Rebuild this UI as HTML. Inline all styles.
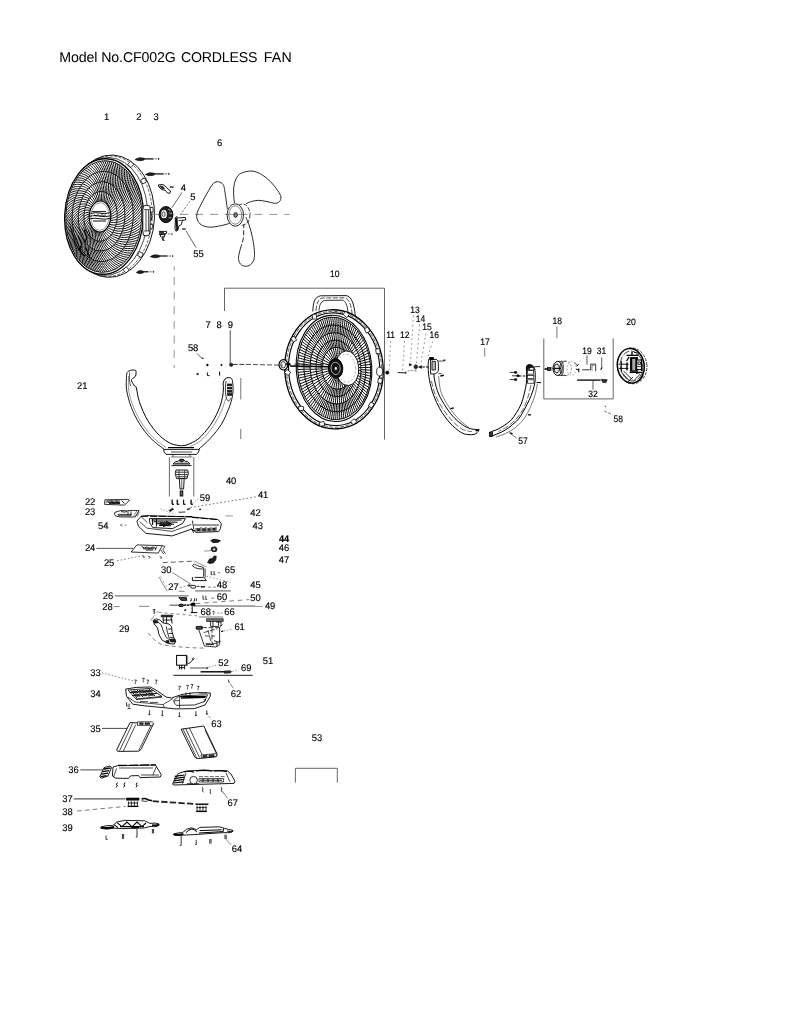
<!DOCTYPE html>
<html><head><meta charset="utf-8"><title>Model No.CF002G CORDLESS FAN</title>
<style>
html,body{margin:0;padding:0;background:#fff;}
body{width:793px;height:1024px;overflow:hidden;}
svg{display:block;font-family:"Liberation Sans",sans-serif;fill:#000;will-change:transform;text-rendering:geometricPrecision;}

</style></head><body>
<svg width="793" height="1024" viewBox="0 0 793 1024">
<text y="61.8" font-size="14.2"><tspan x="59.3" textLength="116.6" lengthAdjust="spacing">Model No.CF002G</tspan> <tspan x="181" textLength="76.4" lengthAdjust="spacing">CORDLESS</tspan> <tspan x="263.7" textLength="28" lengthAdjust="spacing">FAN</tspan></text>
<g id="labels" stroke="#000" stroke-width="0.15" fill="#000">
<text transform="translate(106.6 120) scale(0.98 1)" font-size="9.6" text-anchor="middle">1</text>
<text transform="translate(138.9 120) scale(0.98 1)" font-size="9.6" text-anchor="middle">2</text>
<text transform="translate(156 120) scale(0.98 1)" font-size="9.6" text-anchor="middle">3</text>
<text transform="translate(219.6 146) scale(0.98 1)" font-size="9.6" text-anchor="middle">6</text>
<text transform="translate(183.3 191.1) scale(0.98 1)" font-size="9.6" text-anchor="middle">4</text>
<text transform="translate(192.9 199.9) scale(0.98 1)" font-size="9.6" text-anchor="middle">5</text>
<text transform="translate(198.4 256.7) scale(0.98 1)" font-size="9.6" text-anchor="middle">55</text>
<text transform="translate(334.8 276.8) scale(0.92 1)" font-size="9.3" text-anchor="middle">10</text>
<text transform="translate(208.1 328) scale(0.98 1)" font-size="9.6" text-anchor="middle">7</text>
<text transform="translate(219 328) scale(0.98 1)" font-size="9.6" text-anchor="middle">8</text>
<text transform="translate(230.3 328) scale(0.98 1)" font-size="9.6" text-anchor="middle">9</text>
<text transform="translate(193.1 351) scale(0.98 1)" font-size="9.6" text-anchor="middle">58</text>
<text transform="translate(82.3 388.6) scale(0.98 1)" font-size="9.6" text-anchor="middle">21</text>
<text transform="translate(390.6 338) scale(0.92 1)" font-size="9.3" text-anchor="middle">11</text>
<text transform="translate(404.7 338) scale(0.92 1)" font-size="9.3" text-anchor="middle">12</text>
<text transform="translate(415 312.6) scale(0.92 1)" font-size="9.3" text-anchor="middle">13</text>
<text transform="translate(420.5 321.6) scale(0.92 1)" font-size="9.3" text-anchor="middle">14</text>
<text transform="translate(427.1 330.3) scale(0.92 1)" font-size="9.3" text-anchor="middle">15</text>
<text transform="translate(434.2 338.4) scale(0.92 1)" font-size="9.3" text-anchor="middle">16</text>
<text transform="translate(485 345.2) scale(0.92 1)" font-size="9.3" text-anchor="middle">17</text>
<text transform="translate(557.2 323.5) scale(0.92 1)" font-size="9.3" text-anchor="middle">18</text>
<text transform="translate(631.1 325.1) scale(0.92 1)" font-size="9.3" text-anchor="middle">20</text>
<text transform="translate(587.1 353.9) scale(0.92 1)" font-size="9.3" text-anchor="middle">19</text>
<text transform="translate(601.6 353.9) scale(0.92 1)" font-size="9.3" text-anchor="middle">31</text>
<text transform="translate(593.1 397.3) scale(0.92 1)" font-size="9.3" text-anchor="middle">32</text>
<text transform="translate(618.2 421.5) scale(0.92 1)" font-size="9.3" text-anchor="middle">58</text>
<text transform="translate(523 444.1) scale(0.92 1)" font-size="9.3" text-anchor="middle">57</text>
<text transform="translate(231.1 483.5) scale(0.98 1)" font-size="9.6" text-anchor="middle">40</text>
<text transform="translate(204.9 500.8) scale(0.98 1)" font-size="9.6" text-anchor="middle">59</text>
<text transform="translate(263.1 497.8) scale(0.98 1)" font-size="9.6" text-anchor="middle">41</text>
<text transform="translate(90.1 504.6) scale(0.98 1)" font-size="9.6" text-anchor="middle">22</text>
<text transform="translate(90.1 514.9) scale(0.98 1)" font-size="9.6" text-anchor="middle">23</text>
<text transform="translate(103.3 529.4) scale(0.98 1)" font-size="9.6" text-anchor="middle">54</text>
<text transform="translate(255.4 516.2) scale(0.98 1)" font-size="9.6" text-anchor="middle">42</text>
<text transform="translate(257.8 528.9) scale(0.98 1)" font-size="9.6" text-anchor="middle">43</text>
<text transform="translate(284 551.4) scale(0.98 1)" font-size="9.6" text-anchor="middle">46</text>
<text transform="translate(284 562.6) scale(0.98 1)" font-size="9.6" text-anchor="middle">47</text>
<text transform="translate(90.1 551.3) scale(0.98 1)" font-size="9.6" text-anchor="middle">24</text>
<text transform="translate(109.1 565.6) scale(0.98 1)" font-size="9.6" text-anchor="middle">25</text>
<text transform="translate(166.2 572.5) scale(0.98 1)" font-size="9.6" text-anchor="middle">30</text>
<text transform="translate(229.9 572.7) scale(0.98 1)" font-size="9.6" text-anchor="middle">65</text>
<text transform="translate(173.4 590.2) scale(0.98 1)" font-size="9.6" text-anchor="middle">27</text>
<text transform="translate(221.9 588.2) scale(0.98 1)" font-size="9.6" text-anchor="middle">48</text>
<text transform="translate(255.4 588.2) scale(0.98 1)" font-size="9.6" text-anchor="middle">45</text>
<text transform="translate(107.9 598.9) scale(0.98 1)" font-size="9.6" text-anchor="middle">26</text>
<text transform="translate(221.9 599.7) scale(0.98 1)" font-size="9.6" text-anchor="middle">60</text>
<text transform="translate(255.4 600.5) scale(0.98 1)" font-size="9.6" text-anchor="middle">50</text>
<text transform="translate(107.5 610.4) scale(0.98 1)" font-size="9.6" text-anchor="middle">28</text>
<text transform="translate(270.1 609) scale(0.98 1)" font-size="9.6" text-anchor="middle">49</text>
<text transform="translate(205.8 614.5) scale(0.98 1)" font-size="9.6" text-anchor="middle">68</text>
<text transform="translate(229.5 614.5) scale(0.98 1)" font-size="9.6" text-anchor="middle">66</text>
<text transform="translate(124.3 631.6) scale(0.98 1)" font-size="9.6" text-anchor="middle">29</text>
<text transform="translate(239.6 630) scale(0.98 1)" font-size="9.6" text-anchor="middle">61</text>
<text transform="translate(267.9 663.6) scale(0.98 1)" font-size="9.6" text-anchor="middle">51</text>
<text transform="translate(223.5 666.4) scale(0.98 1)" font-size="9.6" text-anchor="middle">52</text>
<text transform="translate(246.2 670.5) scale(0.98 1)" font-size="9.6" text-anchor="middle">69</text>
<text transform="translate(95.4 675.5) scale(0.98 1)" font-size="9.6" text-anchor="middle">33</text>
<text transform="translate(95.4 696.7) scale(0.98 1)" font-size="9.6" text-anchor="middle">34</text>
<text transform="translate(236 697.3) scale(0.98 1)" font-size="9.6" text-anchor="middle">62</text>
<text transform="translate(216.4 727) scale(0.98 1)" font-size="9.6" text-anchor="middle">63</text>
<text transform="translate(95.4 732.2) scale(0.98 1)" font-size="9.6" text-anchor="middle">35</text>
<text transform="translate(316.9 740.5) scale(0.98 1)" font-size="9.6" text-anchor="middle">53</text>
<text transform="translate(73.5 772.7) scale(0.98 1)" font-size="9.6" text-anchor="middle">36</text>
<text transform="translate(67.4 801.9) scale(0.98 1)" font-size="9.6" text-anchor="middle">37</text>
<text transform="translate(67.4 815.3) scale(0.98 1)" font-size="9.6" text-anchor="middle">38</text>
<text transform="translate(67.4 830.6) scale(0.98 1)" font-size="9.6" text-anchor="middle">39</text>
<text transform="translate(232.8 805.7) scale(0.98 1)" font-size="9.6" text-anchor="middle">67</text>
<text transform="translate(237 852.4) scale(0.98 1)" font-size="9.6" text-anchor="middle">64</text>
<text transform="translate(284 541.6) scale(0.96 1)" font-size="9.6" text-anchor="middle" font-weight="bold">44</text>
</g>
<g id="frames">
<path d="M224.5 311 L224.5 288.2 L384.5 288.2 L384.5 439.5" stroke="#555" stroke-width="0.9" fill="none"/>
<path d="M543.8 338.4 L543.8 398.9 L613.2 398.9 L613.2 338.4" stroke="#555" stroke-width="0.9" fill="none"/>
<path d="M295.4 782.6 L295.4 768.3 L337.3 768.3 L337.3 782.6" stroke="#555" stroke-width="0.9" fill="none"/>
<line x1="180.3" y1="214.4" x2="289.5" y2="214.4" stroke="#888" stroke-width="0.9" stroke-dasharray="8 6.84"/>
<path d="M174.2 266.6 V270.6 M174.2 277 V368" stroke="#888" stroke-width="0.9" fill="none" stroke-dasharray="8 6.65"/>
<line x1="240.8" y1="378" x2="240.8" y2="399.5" stroke="#666" stroke-width="0.9"/>
<line x1="240.8" y1="429" x2="240.8" y2="439.2" stroke="#666" stroke-width="0.9"/>
<line x1="230.2" y1="330.3" x2="230.2" y2="364.3" stroke="#222" stroke-width="0.8"/>
<line x1="484.7" y1="347.9" x2="484.7" y2="356.5" stroke="#555" stroke-width="0.8"/>
<line x1="556.9" y1="326.3" x2="556.9" y2="338.4" stroke="#555" stroke-width="0.8"/>
<line x1="587" y1="355.5" x2="587" y2="364.6" stroke="#333" stroke-width="0.8"/>
<line x1="601.7" y1="357.5" x2="601.7" y2="368" stroke="#333" stroke-width="0.8"/>
<line x1="593" y1="380.7" x2="593" y2="389.8" stroke="#333" stroke-width="0.8"/>
</g>
<g id="grill-front">
<ellipse cx="110.3" cy="216.2" rx="44.2" ry="61.2" stroke="#000" stroke-width="0.9" fill="#fff" transform="rotate(2.5 110.3 216.2)"/>
<ellipse cx="109" cy="216.2" rx="43.2" ry="60.2" stroke="#000" stroke-width="0.6" fill="none" stroke-dasharray="3 1.5" transform="rotate(2.5 109 216.2)"/>
<ellipse cx="106.5" cy="216.4" rx="41.2" ry="59" stroke="#000" stroke-width="0.7" fill="#fff" transform="rotate(2.5 106.5 216.4)"/>
<rect x="128.54" y="162.22" width="4.4" height="4.4" fill="#fff" stroke="#000" stroke-width="0.7" transform="rotate(-49.6 130.74 164.42)"/>
<rect x="141.36" y="178.78" width="4.4" height="4.4" fill="#fff" stroke="#000" stroke-width="0.7" transform="rotate(-30.4 143.56 180.98)"/>
<rect x="148.71" y="207.62" width="4.4" height="4.4" fill="#fff" stroke="#000" stroke-width="0.7" transform="rotate(-6.4 150.91 209.82)"/>
<rect x="147.98" y="224.25" width="4.4" height="4.4" fill="#fff" stroke="#000" stroke-width="0.7" transform="rotate(6.4 150.18 226.45)"/>
<rect x="138.15" y="252.34" width="4.4" height="4.4" fill="#fff" stroke="#000" stroke-width="0.7" transform="rotate(30.4 140.35 254.54)"/>
<rect x="123.93" y="267.72" width="4.4" height="4.4" fill="#fff" stroke="#000" stroke-width="0.7" transform="rotate(49.6 126.13 269.92)"/>
<ellipse cx="104" cy="216.5" rx="39.3" ry="57.8" stroke="#000" stroke-width="1.3" fill="#fff" transform="rotate(2.5 104 216.5)"/>
<path d="M109.79 216.74 C110.41 216.51 112.28 215.93 113.5 215.35 C114.72 214.77 116.52 213.6 117.12 213.25 M109.63 218.62 C110.27 218.48 112.16 218.19 113.42 217.79 C114.68 217.4 116.55 216.5 117.18 216.24 M109.33 220.46 C109.97 220.42 111.87 220.42 113.15 220.21 C114.42 220.01 116.35 219.4 117 219.24 M108.89 222.24 C109.52 222.3 111.4 222.59 112.68 222.58 C113.96 222.57 115.92 222.26 116.57 222.2 M108.31 223.94 C108.93 224.09 110.77 224.66 112.03 224.85 C113.3 225.04 115.27 225.03 115.91 225.07 M107.6 225.52 C108.2 225.77 109.97 226.62 111.21 227 C112.45 227.38 114.39 227.68 115.03 227.81 M106.78 226.97 C107.35 227.31 109.03 228.42 110.23 228.99 C111.42 229.56 113.32 230.16 113.94 230.39 M105.85 228.26 C106.39 228.68 107.96 230.05 109.09 230.8 C110.23 231.55 112.06 232.43 112.65 232.76 M104.83 229.38 C105.33 229.88 106.77 231.48 107.83 232.4 C108.89 233.32 110.62 234.48 111.18 234.89 M103.73 230.31 C104.19 230.88 105.48 232.69 106.45 233.76 C107.42 234.84 109.05 236.26 109.57 236.75 M102.58 231.03 C102.98 231.67 104.11 233.66 104.98 234.87 C105.85 236.09 107.34 237.74 107.81 238.32 M101.38 231.54 C101.72 232.23 102.68 234.37 103.44 235.71 C104.2 237.05 105.54 238.92 105.96 239.56 M100.15 231.83 C100.44 232.57 101.2 234.82 101.85 236.27 C102.49 237.71 103.66 239.77 104.02 240.47 M98.92 231.89 C99.14 232.66 99.71 235.01 100.23 236.53 C100.75 238.05 101.74 240.27 102.04 241.02 M97.7 231.72 C97.85 232.51 98.23 234.92 98.62 236.5 C99 238.08 99.8 240.43 100.03 241.21 M96.5 231.33 C96.59 232.13 96.76 234.56 97.02 236.18 C97.27 237.8 97.87 240.23 98.03 241.05 M95.35 230.71 C95.37 231.52 95.35 233.93 95.47 235.56 C95.59 237.2 95.97 239.69 96.07 240.52 M94.26 229.89 C94.22 230.69 94 233.04 93.98 234.67 C93.97 236.29 94.14 238.81 94.18 239.63 M93.25 228.87 C93.14 229.65 92.73 231.92 92.59 233.51 C92.44 235.1 92.41 237.59 92.37 238.41 M92.33 227.67 C92.16 228.41 91.57 230.56 91.3 232.09 C91.03 233.63 90.79 236.07 90.69 236.87 M91.52 226.3 C91.29 226.99 90.54 229 90.14 230.45 C89.75 231.9 89.32 234.26 89.15 235.03 M90.83 224.79 C90.54 225.42 89.64 227.25 89.13 228.6 C88.62 229.96 88 232.19 87.78 232.91 M90.26 223.15 C89.93 223.72 88.89 225.34 88.27 226.57 C87.66 227.81 86.87 229.89 86.59 230.56 M89.83 221.41 C89.46 221.91 88.3 223.3 87.59 224.4 C86.89 225.49 85.94 227.39 85.61 227.99 M89.54 219.6 C89.13 220.02 87.88 221.16 87.09 222.1 C86.31 223.05 85.22 224.73 84.84 225.26 M89.4 217.74 C88.97 218.07 87.63 218.95 86.78 219.72 C85.93 220.5 84.72 221.95 84.31 222.39 M89.41 215.86 C88.95 216.1 87.57 216.7 86.67 217.29 C85.77 217.89 84.45 219.08 84.01 219.44 M89.57 213.98 C89.1 214.13 87.68 214.44 86.75 214.85 C85.81 215.26 84.42 216.18 83.95 216.44 M89.87 212.14 C89.39 212.19 87.98 212.21 87.02 212.43 C86.07 212.65 84.62 213.28 84.14 213.45 M90.31 210.36 C89.84 210.31 88.44 210.04 87.49 210.07 C86.53 210.09 85.05 210.42 84.57 210.49 M90.89 208.66 C90.43 208.52 89.08 207.97 88.13 207.79 C87.19 207.62 85.71 207.65 85.22 207.62 M91.6 207.08 C91.16 206.84 89.87 206.01 88.96 205.64 C88.04 205.28 86.58 205 86.11 204.88 M92.42 205.63 C92.01 205.3 90.81 204.21 89.94 203.65 C89.07 203.09 87.66 202.52 87.2 202.3 M93.35 204.34 C92.97 203.92 91.89 202.58 91.08 201.84 C90.26 201.11 88.92 200.25 88.49 199.93 M94.37 203.22 C94.03 202.72 93.08 201.15 92.34 200.24 C91.6 199.34 90.35 198.2 89.95 197.79 M95.47 202.29 C95.18 201.72 94.37 199.94 93.72 198.88 C93.07 197.82 91.93 196.42 91.57 195.93 M96.62 201.57 C96.38 200.94 95.74 198.97 95.19 197.77 C94.64 196.57 93.63 194.94 93.32 194.37 M97.82 201.06 C97.64 200.37 97.17 198.26 96.73 196.93 C96.29 195.61 95.44 193.76 95.18 193.13 M99.05 200.77 C98.93 200.04 98.64 197.8 98.32 196.38 C98 194.95 97.31 192.91 97.11 192.22 M100.28 200.71 C100.22 199.95 100.13 197.62 99.93 196.11 C99.74 194.61 99.24 192.41 99.1 191.67 M101.5 200.88 C101.51 200.09 101.62 197.71 101.55 196.14 C101.49 194.58 101.18 192.25 101.1 191.47 M102.7 201.27 C102.77 200.47 103.08 198.07 103.15 196.47 C103.22 194.86 103.11 192.45 103.1 191.64 M103.85 201.89 C103.99 201.08 104.5 198.7 104.7 197.08 C104.9 195.46 105 192.99 105.06 192.17 M104.94 202.71 C105.15 201.92 105.85 199.59 106.19 197.98 C106.52 196.37 106.83 193.87 106.96 193.05 M105.95 203.73 C106.22 202.96 107.11 200.71 107.58 199.14 C108.05 197.56 108.57 195.09 108.76 194.28 M106.87 204.93 C107.2 204.2 108.27 202.07 108.87 200.55 C109.47 199.03 110.18 196.61 110.45 195.82 M107.68 206.3 C108.07 205.61 109.31 203.63 110.03 202.19 C110.74 200.75 111.66 198.42 111.98 197.66 M108.37 207.81 C108.82 207.18 110.21 205.38 111.04 204.04 C111.87 202.7 112.97 200.49 113.36 199.78 M108.94 209.45 C109.43 208.89 110.96 207.29 111.89 206.07 C112.83 204.85 114.1 202.79 114.54 202.13 M109.37 211.19 C109.9 210.7 111.55 209.33 112.58 208.25 C113.6 207.16 115.03 205.29 115.53 204.7 M109.66 213 C110.23 212.59 111.97 211.47 113.07 210.54 C114.18 209.61 115.76 207.95 116.29 207.43 M109.8 214.86 C110.4 214.54 112.21 213.68 113.38 212.92 C114.56 212.16 116.25 210.73 116.83 210.29 M117.16 213.89 C117.77 213.42 119.65 212.14 120.84 211.07 C122.03 210.01 123.74 208.11 124.32 207.52 M117.18 216.06 C117.82 215.66 119.76 214.58 121.01 213.64 C122.26 212.71 124.07 211 124.68 210.47 M117.09 218.23 C117.74 217.9 119.74 217.03 121.04 216.23 C122.33 215.44 124.23 213.92 124.87 213.46 M116.86 220.38 C117.53 220.12 119.57 219.48 120.91 218.82 C122.24 218.17 124.22 216.86 124.89 216.47 M116.51 222.51 C117.2 222.32 119.26 221.9 120.62 221.4 C121.99 220.89 124.04 219.8 124.72 219.48 M116.04 224.58 C116.73 224.47 118.81 224.28 120.19 223.93 C121.58 223.58 123.68 222.72 124.38 222.47 M115.45 226.6 C116.15 226.56 118.22 226.6 119.62 226.41 C121.02 226.21 123.16 225.58 123.86 225.42 M114.75 228.53 C115.44 228.58 117.5 228.85 118.9 228.81 C120.31 228.77 122.47 228.38 123.18 228.29 M113.94 230.38 C114.63 230.5 116.65 230.99 118.05 231.11 C119.45 231.23 121.62 231.08 122.33 231.08 M113.03 232.11 C113.7 232.31 115.69 233.03 117.07 233.3 C118.45 233.58 120.61 233.67 121.32 233.75 M112.03 233.73 C112.68 234 114.61 234.94 115.97 235.37 C117.32 235.8 119.47 236.13 120.17 236.29 M110.93 235.21 C111.57 235.56 113.43 236.71 114.75 237.29 C116.07 237.87 118.18 238.44 118.87 238.68 M109.76 236.55 C110.37 236.97 112.15 238.33 113.43 239.05 C114.71 239.77 116.77 240.59 117.44 240.89 M108.52 237.74 C109.1 238.22 110.79 239.77 112.01 240.64 C113.24 241.5 115.24 242.54 115.89 242.93 M107.22 238.76 C107.77 239.31 109.35 241.04 110.52 242.04 C111.68 243.04 113.61 244.3 114.23 244.76 M105.86 239.62 C106.38 240.22 107.84 242.12 108.95 243.25 C110.05 244.37 111.88 245.85 112.47 246.37 M104.47 240.29 C104.94 240.95 106.29 243.01 107.32 244.25 C108.34 245.49 110.08 247.17 110.63 247.76 M103.05 240.79 C103.48 241.5 104.69 243.69 105.64 245.04 C106.58 246.39 108.21 248.26 108.72 248.91 M101.61 241.09 C101.99 241.85 103.07 244.16 103.93 245.61 C104.79 247.07 106.29 249.11 106.76 249.81 M100.16 241.21 C100.5 242 101.43 244.42 102.19 245.96 C102.96 247.5 104.33 249.7 104.76 250.45 M98.71 241.14 C99 241.97 99.78 244.47 100.45 246.09 C101.12 247.7 102.35 250.05 102.74 250.84 M97.28 240.88 C97.52 241.74 98.14 244.31 98.71 245.99 C99.28 247.67 100.37 250.13 100.7 250.96 M95.87 240.44 C96.06 241.31 96.53 243.93 96.99 245.66 C97.46 247.39 98.39 249.96 98.67 250.82 M94.5 239.81 C94.63 240.69 94.94 243.34 95.31 245.11 C95.67 246.88 96.44 249.54 96.67 250.42 M93.17 239 C93.25 239.89 93.41 242.55 93.66 244.34 C93.92 246.13 94.53 248.86 94.7 249.76 M91.9 238.02 C91.93 238.91 91.93 241.56 92.07 243.36 C92.22 245.16 92.66 247.93 92.78 248.85 M90.7 236.88 C90.68 237.76 90.51 240.37 90.55 242.17 C90.59 243.97 90.87 246.77 90.93 247.69 M89.57 235.58 C89.5 236.45 89.18 239 89.11 240.79 C89.05 242.58 89.16 245.37 89.17 246.29 M88.53 234.13 C88.4 234.98 87.94 237.47 87.77 239.22 C87.59 240.98 87.54 243.76 87.49 244.66 M87.57 232.55 C87.4 233.37 86.79 235.77 86.52 237.48 C86.24 239.19 86.02 241.93 85.93 242.82 M86.72 230.84 C86.5 231.63 85.76 233.92 85.38 235.57 C85.01 237.23 84.63 239.91 84.48 240.78 M85.97 229.02 C85.7 229.77 84.83 231.94 84.36 233.52 C83.9 235.11 83.36 237.71 83.16 238.55 M85.33 227.11 C85.02 227.82 84.03 229.84 83.47 231.34 C82.92 232.85 82.23 235.35 81.99 236.15 M84.81 225.12 C84.46 225.77 83.36 227.63 82.72 229.05 C82.08 230.46 81.25 232.85 80.96 233.6 M84.41 223.06 C84.03 223.66 82.82 225.35 82.1 226.66 C81.38 227.97 80.42 230.21 80.09 230.93 M84.13 220.94 C83.72 221.48 82.42 222.99 81.63 224.19 C80.84 225.39 79.75 227.48 79.38 228.14 M83.98 218.79 C83.53 219.27 82.16 220.58 81.31 221.66 C80.45 222.74 79.25 224.66 78.84 225.26 M83.95 216.63 C83.48 217.04 82.05 218.14 81.13 219.09 C80.22 220.04 78.92 221.78 78.48 222.31 M84.05 214.46 C83.56 214.8 82.07 215.69 81.11 216.5 C80.15 217.31 78.76 218.85 78.29 219.32 M84.28 212.31 C83.77 212.57 82.24 213.24 81.24 213.91 C80.24 214.58 78.77 215.91 78.27 216.31 M84.62 210.18 C84.11 210.37 82.55 210.82 81.52 211.34 C80.49 211.86 78.95 212.97 78.44 213.3 M85.09 208.11 C84.57 208.22 83.01 208.44 81.95 208.8 C80.9 209.17 79.31 210.06 78.78 210.31 M85.68 206.09 C85.16 206.13 83.59 206.12 82.53 206.33 C81.46 206.54 79.84 207.19 79.3 207.36 M86.38 204.16 C85.86 204.12 84.31 203.87 83.25 203.93 C82.18 203.98 80.53 204.4 79.98 204.49 M87.19 202.31 C86.68 202.2 85.16 201.72 84.1 201.62 C83.04 201.52 81.37 201.69 80.83 201.7 M88.1 200.58 C87.6 200.39 86.12 199.69 85.08 199.43 C84.04 199.17 82.38 199.1 81.84 199.03 M89.11 198.96 C88.62 198.69 87.2 197.78 86.18 197.37 C85.16 196.95 83.53 196.64 82.99 196.49 M90.2 197.48 C89.74 197.14 88.38 196.01 87.4 195.45 C86.41 194.88 84.81 194.33 84.29 194.1 M91.37 196.14 C90.93 195.73 89.66 194.39 88.72 193.69 C87.78 192.98 86.22 192.19 85.72 191.89 M92.62 194.95 C92.2 194.47 91.03 192.95 90.13 192.1 C89.24 191.25 87.75 190.23 87.27 189.85 M93.92 193.92 C93.54 193.39 92.46 191.68 91.63 190.69 C90.8 189.71 89.38 188.47 88.93 188.02 M95.27 193.07 C94.93 192.47 93.97 190.6 93.2 189.49 C92.44 188.38 91.11 186.92 90.69 186.41 M96.67 192.4 C96.36 191.74 95.52 189.71 94.83 188.48 C94.14 187.26 92.91 185.6 92.53 185.02 M98.09 191.9 C97.83 191.2 97.12 189.03 96.51 187.69 C95.9 186.36 94.78 184.51 94.44 183.87 M99.53 191.59 C99.31 190.85 98.74 188.56 98.22 187.12 C97.7 185.68 96.7 183.67 96.4 182.97 M100.98 191.47 C100.81 190.69 100.39 188.29 99.95 186.77 C99.52 185.25 98.66 183.07 98.4 182.33 M102.43 191.54 C102.31 190.73 102.03 188.25 101.7 186.65 C101.36 185.05 100.64 182.73 100.42 181.94 M103.86 191.8 C103.79 190.96 103.67 188.41 103.43 186.75 C103.2 185.08 102.62 182.64 102.46 181.82 M105.27 192.25 C105.25 191.39 105.28 188.79 105.15 187.07 C105.02 185.36 104.6 182.81 104.49 181.96 M106.64 192.88 C106.67 192 106.87 189.38 106.84 187.62 C106.82 185.87 106.55 183.24 106.49 182.36 M107.96 193.68 C108.05 192.8 108.4 190.17 108.49 188.39 C108.57 186.61 108.47 183.91 108.46 183.02 M109.23 194.66 C109.37 193.78 109.88 191.16 110.08 189.37 C110.27 187.59 110.33 184.84 110.38 183.93 M110.44 195.81 C110.63 194.93 111.3 192.35 111.59 190.56 C111.89 188.77 112.12 186 112.23 185.09 M111.56 197.11 C111.81 196.25 112.63 193.71 113.03 191.94 C113.44 190.17 113.83 187.4 113.99 186.49 M112.61 198.56 C112.9 197.72 113.87 195.25 114.38 193.51 C114.89 191.77 115.45 189.02 115.67 188.12 M113.56 200.14 C113.91 199.33 115.02 196.95 115.63 195.26 C116.24 193.56 116.97 190.84 117.23 189.96 M114.42 201.85 C114.81 201.07 116.06 198.8 116.77 197.16 C117.48 195.52 118.36 192.86 118.68 192 M115.16 203.66 C115.6 202.92 116.98 200.78 117.78 199.21 C118.59 197.64 119.63 195.06 120 194.23 M115.8 205.58 C116.28 204.88 117.78 202.88 118.67 201.39 C119.57 199.9 120.76 197.42 121.17 196.63 M116.32 207.57 C116.84 206.92 118.45 205.08 119.43 203.68 C120.41 202.29 121.74 199.93 122.2 199.18 M116.73 209.63 C117.28 209.04 118.99 207.37 120.05 206.08 C121.1 204.78 122.57 202.56 123.07 201.85 M117 211.75 C117.59 211.21 119.39 209.73 120.52 208.55 C121.65 207.36 123.24 205.29 123.78 204.64 M124.39 208.02 C124.98 207.25 126.8 205.09 127.91 203.43 C129.02 201.77 130.53 198.96 131.05 198.07 M124.67 210.33 C125.29 209.61 127.21 207.6 128.39 206.03 C129.57 204.46 131.2 201.77 131.77 200.92 M124.84 212.66 C125.49 212 127.5 210.15 128.75 208.68 C130 207.21 131.75 204.65 132.35 203.85 M124.9 215.02 C125.58 214.41 127.66 212.73 128.98 211.36 C130.29 210 132.16 207.59 132.79 206.83 M124.85 217.38 C125.56 216.83 127.71 215.32 129.09 214.07 C130.46 212.82 132.43 210.57 133.09 209.86 M124.7 219.73 C125.43 219.24 127.64 217.93 129.07 216.79 C130.49 215.66 132.56 213.57 133.26 212.93 M124.43 222.07 C125.18 221.65 127.45 220.52 128.92 219.51 C130.4 218.5 132.55 216.59 133.27 216 M124.06 224.39 C124.83 224.03 127.14 223.1 128.65 222.21 C130.17 221.33 132.4 219.6 133.15 219.08 M123.59 226.66 C124.37 226.37 126.71 225.64 128.26 224.89 C129.81 224.14 132.11 222.61 132.88 222.15 M123.01 228.89 C123.8 228.67 126.17 228.14 127.74 227.53 C129.32 226.91 131.69 225.58 132.48 225.19 M122.33 231.06 C123.13 230.9 125.51 230.59 127.11 230.11 C128.71 229.63 131.13 228.51 131.93 228.19 M121.56 233.17 C122.36 233.08 124.74 232.97 126.36 232.63 C127.97 232.3 130.44 231.39 131.25 231.14 M120.69 235.19 C121.49 235.17 123.87 235.28 125.49 235.08 C127.12 234.88 129.61 234.19 130.44 234.01 M119.74 237.13 C120.53 237.18 122.9 237.49 124.52 237.44 C126.15 237.39 128.66 236.91 129.49 236.81 M118.69 238.96 C119.49 239.09 121.82 239.61 123.44 239.7 C125.07 239.79 127.59 239.54 128.42 239.51 M117.57 240.7 C118.36 240.89 120.66 241.62 122.27 241.85 C123.88 242.08 126.4 242.06 127.23 242.1 M116.38 242.32 C117.15 242.58 119.41 243.51 121 243.88 C122.59 244.26 125.11 244.46 125.93 244.57 M115.11 243.82 C115.87 244.15 118.07 245.27 119.64 245.79 C121.21 246.31 123.7 246.73 124.51 246.91 M113.79 245.19 C114.52 245.59 116.66 246.91 118.2 247.56 C119.73 248.21 122.2 248.85 123 249.11 M112.4 246.43 C113.11 246.89 115.19 248.39 116.68 249.18 C118.18 249.97 120.61 250.83 121.39 251.16 M110.97 247.53 C111.65 248.05 113.65 249.73 115.1 250.65 C116.56 251.57 118.93 252.65 119.7 253.05 M109.49 248.48 C110.15 249.06 112.05 250.92 113.46 251.96 C114.86 253.01 117.18 254.29 117.92 254.76 M107.97 249.28 C108.6 249.92 110.41 251.94 111.76 253.11 C113.11 254.28 115.35 255.76 116.07 256.3 M106.43 249.93 C107.02 250.62 108.73 252.8 110.02 254.08 C111.31 255.37 113.47 257.05 114.16 257.65 M104.86 250.43 C105.42 251.17 107.02 253.49 108.24 254.88 C109.47 256.28 111.54 258.15 112.2 258.8 M103.27 250.76 C103.8 251.55 105.28 254 106.44 255.5 C107.59 257 109.57 259.05 110.19 259.76 M101.68 250.93 C102.17 251.77 103.53 254.34 104.61 255.94 C105.69 257.54 107.56 259.76 108.15 260.52 M100.09 250.95 C100.54 251.82 101.77 254.5 102.77 256.19 C103.77 257.88 105.53 260.26 106.08 261.07 M98.51 250.8 C98.91 251.71 100.02 254.49 100.93 256.26 C101.85 258.03 103.49 260.56 104 261.42 M96.94 250.49 C97.3 251.43 98.27 254.3 99.1 256.14 C99.92 257.98 101.44 260.65 101.91 261.55 M95.39 250.02 C95.7 250.99 96.53 253.93 97.27 255.84 C98.01 257.74 99.4 260.54 99.82 261.48 M93.87 249.4 C94.13 250.39 94.83 253.38 95.48 255.35 C96.12 257.31 97.37 260.22 97.75 261.19 M92.38 248.62 C92.6 249.63 93.15 252.67 93.71 254.68 C94.26 256.69 95.37 259.7 95.7 260.7 M90.94 247.69 C91.11 248.72 91.52 251.78 91.98 253.83 C92.44 255.88 93.4 258.97 93.69 260 M89.55 246.62 C89.67 247.65 89.94 250.73 90.3 252.81 C90.66 254.89 91.47 258.05 91.71 259.1 M88.21 245.4 C88.29 246.44 88.41 249.52 88.67 251.62 C88.93 253.72 89.6 256.93 89.79 257.99 M86.94 244.05 C86.97 245.09 86.95 248.15 87.11 250.26 C87.27 252.37 87.79 255.63 87.92 256.7 M85.74 242.57 C85.72 243.6 85.55 246.64 85.62 248.75 C85.68 250.85 86.04 254.14 86.13 255.21 M84.61 240.97 C84.54 241.99 84.23 244.99 84.2 247.08 C84.17 249.18 84.37 252.47 84.41 253.55 M83.55 239.26 C83.44 240.26 83 243.2 82.87 245.28 C82.74 247.35 82.79 250.64 82.78 251.71 M82.59 237.43 C82.43 238.42 81.85 241.29 81.63 243.33 C81.4 245.38 81.3 248.65 81.24 249.71 M81.71 235.51 C81.5 236.47 80.8 239.26 80.48 241.27 C80.16 243.27 79.91 246.51 79.8 247.55 M80.92 233.5 C80.67 234.43 79.84 237.13 79.43 239.08 C79.02 241.04 78.62 244.22 78.46 245.25 M80.23 231.41 C79.94 232.31 78.99 234.89 78.49 236.8 C77.99 238.7 77.45 241.81 77.24 242.81 M79.64 229.25 C79.31 230.11 78.25 232.58 77.66 234.41 C77.08 236.24 76.39 239.28 76.14 240.25 M79.15 227.03 C78.78 227.85 77.61 230.18 76.95 231.94 C76.28 233.7 75.46 236.64 75.16 237.58 M78.77 224.76 C78.36 225.54 77.09 227.73 76.35 229.4 C75.6 231.08 74.65 233.91 74.31 234.81 M78.49 222.45 C78.05 223.18 76.68 225.22 75.87 226.8 C75.05 228.39 73.97 231.1 73.59 231.96 M78.32 220.12 C77.85 220.79 76.4 222.67 75.51 224.15 C74.63 225.64 73.43 228.22 73.01 229.03 M78.26 217.76 C77.76 218.38 76.23 220.09 75.28 221.47 C74.33 222.85 73.02 225.28 72.57 226.05 M78.31 215.4 C77.78 215.96 76.18 217.49 75.17 218.76 C74.17 220.03 72.75 222.31 72.27 223.02 M78.46 213.05 C77.92 213.55 76.25 214.89 75.19 216.04 C74.13 217.19 72.62 219.3 72.1 219.95 M78.73 210.71 C78.16 211.14 76.45 212.29 75.34 213.32 C74.23 214.35 72.63 216.28 72.09 216.88 M79.1 208.39 C78.51 208.76 76.76 209.72 75.61 210.62 C74.46 211.52 72.78 213.27 72.21 213.8 M79.57 206.12 C78.98 206.42 77.18 207.17 76 207.94 C74.82 208.71 73.06 210.27 72.48 210.73 M80.15 203.89 C79.54 204.12 77.73 204.67 76.52 205.3 C75.3 205.94 73.49 207.29 72.88 207.69 M80.83 201.72 C80.21 201.88 78.38 202.22 77.15 202.72 C75.92 203.21 74.05 204.36 73.43 204.69 M81.6 199.61 C80.98 199.71 79.15 199.84 77.9 200.2 C76.65 200.55 74.74 201.49 74.11 201.74 M82.47 197.59 C81.85 197.62 80.02 197.54 78.77 197.75 C77.51 197.96 75.56 198.68 74.92 198.87 M83.42 195.65 C82.81 195.61 81 195.32 79.74 195.39 C78.48 195.46 76.51 195.96 75.87 196.07 M84.47 193.82 C83.86 193.7 82.07 193.2 80.82 193.13 C79.56 193.06 77.59 193.33 76.94 193.37 M85.59 192.08 C84.99 191.9 83.24 191.2 81.99 190.98 C80.75 190.76 78.77 190.81 78.13 190.78 M86.78 190.46 C86.2 190.21 84.49 189.3 83.26 188.95 C82.04 188.59 80.07 188.41 79.43 188.31 M88.05 188.96 C87.48 188.64 85.82 187.54 84.62 187.04 C83.42 186.54 81.47 186.15 80.85 185.97 M89.37 187.59 C88.82 187.2 87.23 185.91 86.06 185.27 C84.89 184.63 82.98 184.02 82.36 183.77 M90.76 186.35 C90.23 185.9 88.71 184.42 87.58 183.65 C86.44 182.88 84.57 182.04 83.97 181.72 M92.19 185.25 C91.69 184.74 90.25 183.08 89.16 182.18 C88.07 181.27 86.25 180.23 85.66 179.83 M93.67 184.3 C93.19 183.73 91.84 181.9 90.8 180.87 C89.76 179.84 88 178.58 87.44 178.12 M95.19 183.5 C94.74 182.87 93.48 180.87 92.5 179.72 C91.51 178.57 89.82 177.11 89.29 176.58 M96.73 182.85 C96.32 182.16 95.16 180.02 94.24 178.75 C93.32 177.48 91.7 175.82 91.2 175.23 M98.3 182.35 C97.92 181.62 96.87 179.33 96.02 177.95 C95.16 176.57 93.64 174.72 93.16 174.08 M99.89 182.02 C99.54 181.24 98.61 178.81 97.82 177.33 C97.04 175.85 95.61 173.82 95.17 173.12 M101.48 181.85 C101.17 181.02 100.36 178.47 99.65 176.89 C98.94 175.31 97.62 173.11 97.21 172.36 M103.07 181.83 C102.81 180.97 102.12 178.31 101.49 176.64 C100.86 174.97 99.64 172.61 99.28 171.81 M104.65 181.98 C104.43 181.08 103.88 178.33 103.33 176.57 C102.78 174.82 101.69 172.31 101.36 171.46 M106.22 182.29 C106.05 181.36 105.63 178.52 105.16 176.69 C104.7 174.86 103.73 172.22 103.45 171.33 M107.77 182.76 C107.64 181.8 107.36 178.89 106.99 176.99 C106.61 175.1 105.78 172.33 105.54 171.4 M109.29 183.38 C109.21 182.4 109.07 179.43 108.78 177.48 C108.5 175.53 107.8 172.65 107.61 171.69 M110.78 184.16 C110.74 183.16 110.74 180.15 110.55 178.15 C110.37 176.16 109.81 173.18 109.66 172.18 M112.22 185.09 C112.23 184.07 112.37 181.03 112.28 179 C112.19 176.96 111.78 173.9 111.67 172.88 M113.61 186.16 C113.67 185.14 113.95 182.08 113.96 180.02 C113.97 177.96 113.7 174.82 113.65 173.78 M114.95 187.38 C115.05 186.35 115.48 183.29 115.59 181.21 C115.69 179.13 115.58 175.94 115.57 174.89 M116.22 188.73 C116.37 187.7 116.95 184.66 117.15 182.57 C117.35 180.48 117.39 177.25 117.44 176.18 M117.42 190.21 C117.63 189.19 118.34 186.17 118.64 184.08 C118.95 181.99 119.14 178.74 119.23 177.67 M118.55 191.81 C118.81 190.8 119.66 187.83 120.06 185.75 C120.46 183.67 120.8 180.4 120.95 179.33 M119.61 193.52 C119.9 192.53 120.9 189.61 121.39 187.55 C121.89 185.49 122.39 182.23 122.58 181.17 M120.57 195.35 C120.92 194.37 122.04 191.52 122.63 189.5 C123.23 187.47 123.88 184.22 124.12 183.17 M121.45 197.27 C121.84 196.32 123.1 193.55 123.78 191.56 C124.47 189.57 125.27 186.37 125.56 185.33 M122.24 199.28 C122.67 198.36 124.05 195.69 124.83 193.75 C125.6 191.8 126.55 188.65 126.9 187.63 M122.93 201.37 C123.4 200.48 124.9 197.92 125.77 196.03 C126.63 194.15 127.73 191.06 128.12 190.07 M123.52 203.53 C124.03 202.68 125.65 200.24 126.6 198.42 C127.55 196.6 128.78 193.59 129.22 192.63 M124.01 205.75 C124.56 204.94 126.28 202.63 127.31 200.89 C128.35 199.14 129.72 196.23 130.2 195.3 M130.62 196.62 C131.05 195.57 132.44 192.53 133.2 190.33 C133.97 188.13 134.88 184.58 135.22 183.43 M131.28 198.92 C131.75 197.9 133.25 194.95 134.09 192.79 C134.94 190.64 135.99 187.14 136.37 186.01 M131.85 201.28 C132.35 200.29 133.96 197.43 134.89 195.33 C135.82 193.23 137 189.79 137.42 188.68 M132.32 203.69 C132.86 202.73 134.57 199.98 135.58 197.94 C136.59 195.9 137.9 192.52 138.37 191.44 M132.7 206.14 C133.28 205.21 135.09 202.58 136.18 200.6 C137.26 198.62 138.7 195.33 139.2 194.28 M132.99 208.61 C133.6 207.73 135.51 205.22 136.66 203.31 C137.82 201.41 139.38 198.21 139.92 197.19 M133.18 211.12 C133.82 210.28 135.82 207.89 137.05 206.07 C138.27 204.24 139.95 201.14 140.54 200.16 M133.27 213.64 C133.95 212.84 136.03 210.6 137.33 208.85 C138.62 207.11 140.41 204.13 141.03 203.18 M133.27 216.17 C133.98 215.42 136.14 213.32 137.5 211.66 C138.85 210.01 140.76 207.15 141.41 206.24 M133.17 218.7 C133.9 218 136.14 216.05 137.56 214.49 C138.97 212.93 140.98 210.2 141.67 209.34 M132.98 221.22 C133.74 220.57 136.04 218.78 137.51 217.32 C138.98 215.86 141.09 213.27 141.81 212.46 M132.69 223.73 C133.47 223.13 135.84 221.51 137.36 220.15 C138.88 218.8 141.08 216.35 141.83 215.59 M132.31 226.21 C133.11 225.67 135.53 224.22 137.1 222.97 C138.67 221.72 140.96 219.43 141.73 218.72 M131.83 228.67 C132.65 228.18 135.12 226.9 136.73 225.77 C138.35 224.63 140.71 222.5 141.51 221.85 M131.26 231.08 C132.1 230.66 134.61 229.56 136.26 228.54 C137.91 227.52 140.36 225.56 141.17 224.96 M130.61 233.45 C131.45 233.09 134 232.17 135.68 231.27 C137.37 230.36 139.88 228.58 140.72 228.04 M129.86 235.77 C130.72 235.47 133.29 234.73 135.01 233.95 C136.72 233.17 139.29 231.57 140.15 231.09 M129.03 238.03 C129.89 237.78 132.49 237.23 134.23 236.58 C135.97 235.92 138.59 234.51 139.46 234.09 M128.11 240.21 C128.99 240.03 131.59 239.67 133.35 239.14 C135.11 238.61 137.78 237.39 138.67 237.04 M127.12 242.33 C128 242.21 130.61 242.04 132.38 241.64 C134.15 241.24 136.86 240.2 137.76 239.92 M126.05 244.36 C126.93 244.31 129.54 244.32 131.32 244.05 C133.1 243.78 135.84 242.95 136.75 242.73 M124.9 246.3 C125.78 246.31 128.38 246.52 130.17 246.38 C131.96 246.24 134.72 245.61 135.63 245.45 M123.69 248.15 C124.56 248.23 127.15 248.62 128.93 248.61 C130.72 248.6 133.5 248.17 134.41 248.08 M122.41 249.9 C123.28 250.04 125.83 250.63 127.62 250.75 C129.4 250.87 132.18 250.64 133.1 250.62 M121.06 251.54 C121.92 251.75 124.45 252.52 126.22 252.77 C127.99 253.02 130.78 253 131.69 253.04 M119.66 253.08 C120.51 253.34 123 254.3 124.76 254.68 C126.51 255.06 129.29 255.24 130.2 255.36 M118.21 254.5 C119.05 254.83 121.49 255.96 123.23 256.47 C124.96 256.98 127.72 257.37 128.62 257.55 M116.71 255.79 C117.53 256.19 119.92 257.5 121.63 258.14 C123.34 258.77 126.08 259.36 126.96 259.61 M115.16 256.97 C115.96 257.42 118.3 258.91 119.98 259.67 C121.66 260.43 124.36 261.22 125.24 261.53 M113.57 258.02 C114.36 258.53 116.62 260.19 118.27 261.07 C119.91 261.95 122.58 262.94 123.44 263.31 M111.95 258.93 C112.71 259.5 114.91 261.32 116.52 262.32 C118.12 263.33 120.74 264.51 121.58 264.95 M110.3 259.72 C111.04 260.34 113.16 262.32 114.72 263.44 C116.28 264.56 118.85 265.93 119.67 266.43 M108.63 260.36 C109.34 261.04 111.38 263.17 112.89 264.4 C114.4 265.64 116.91 267.2 117.71 267.76 M106.94 260.87 C107.62 261.6 109.57 263.88 111.03 265.22 C112.49 266.56 114.92 268.31 115.7 268.92 M105.23 261.24 C105.88 262.01 107.74 264.43 109.14 265.88 C110.55 267.32 112.91 269.25 113.66 269.92 M103.52 261.47 C104.14 262.29 105.89 264.84 107.24 266.38 C108.58 267.93 110.86 270.03 111.58 270.75 M101.8 261.56 C102.39 262.42 104.04 265.09 105.32 266.73 C106.6 268.37 108.79 270.64 109.48 271.42 M100.09 261.5 C100.64 262.4 102.18 265.19 103.39 266.92 C104.61 268.66 106.7 271.07 107.37 271.9 M98.38 261.3 C98.89 262.24 100.33 265.13 101.47 266.95 C102.61 268.77 104.61 271.34 105.24 272.22 M96.69 260.96 C97.16 261.94 98.48 264.93 99.55 266.83 C100.62 268.72 102.51 271.43 103.1 272.36 M95.01 260.49 C95.45 261.49 96.65 264.57 97.64 266.54 C98.64 268.51 100.42 271.36 100.97 272.32 M93.36 259.87 C93.76 260.91 94.84 264.06 95.75 266.1 C96.67 268.14 98.33 271.1 98.85 272.11 M91.74 259.11 C92.1 260.18 93.06 263.4 93.89 265.5 C94.72 267.6 96.27 270.68 96.74 271.72 M90.16 258.23 C90.47 259.31 91.3 262.59 92.05 264.74 C92.8 266.9 94.22 270.09 94.66 271.16 M88.61 257.21 C88.89 258.31 89.59 261.63 90.25 263.84 C90.92 266.04 92.21 269.32 92.6 270.42 M87.11 256.06 C87.34 257.18 87.91 260.54 88.49 262.78 C89.07 265.03 90.23 268.4 90.58 269.52 M85.66 254.79 C85.84 255.92 86.28 259.3 86.78 261.58 C87.27 263.86 88.3 267.3 88.6 268.45 M84.26 253.39 C84.4 254.53 84.71 257.93 85.11 260.24 C85.52 262.54 86.41 266.05 86.67 267.21 M82.92 251.88 C83.02 253.03 83.19 256.44 83.51 258.76 C83.82 261.08 84.58 264.64 84.8 265.82 M81.64 250.26 C81.69 251.41 81.74 254.81 81.96 257.14 C82.19 259.48 82.81 263.08 82.98 264.27 M80.43 248.53 C80.44 249.68 80.35 253.06 80.49 255.4 C80.62 257.74 81.1 261.38 81.23 262.57 M79.28 246.71 C79.25 247.84 79.04 251.2 79.08 253.54 C79.13 255.88 79.47 259.53 79.55 260.73 M78.21 244.78 C78.14 245.91 77.8 249.23 77.75 251.56 C77.71 253.89 77.91 257.55 77.94 258.75 M77.22 242.77 C77.1 243.89 76.64 247.16 76.51 249.47 C76.37 251.78 76.43 255.44 76.42 256.63 M76.31 240.67 C76.15 241.77 75.56 244.99 75.34 247.27 C75.12 249.56 75.04 253.2 74.98 254.39 M75.48 238.5 C75.28 239.58 74.57 242.73 74.26 244.98 C73.96 247.24 73.74 250.85 73.64 252.03 M74.74 236.26 C74.49 237.32 73.67 240.39 73.28 242.6 C72.89 244.82 72.53 248.39 72.39 249.55 M74.08 233.96 C73.8 234.99 72.86 237.97 72.39 240.14 C71.91 242.31 71.43 245.84 71.23 246.98 M73.51 231.6 C73.19 232.6 72.15 235.48 71.59 237.6 C71.04 239.72 70.42 243.19 70.18 244.3 M73.04 229.19 C72.68 230.16 71.53 232.94 70.9 234.99 C70.27 237.05 69.52 240.45 69.24 241.54 M72.66 226.74 C72.27 227.68 71.02 230.34 70.31 232.33 C69.6 234.32 68.72 237.64 68.4 238.7 M72.37 224.27 C71.95 225.16 70.6 227.7 69.82 229.62 C69.04 231.54 68.04 234.76 67.68 235.79 M72.18 221.76 C71.72 222.61 70.29 225.02 69.43 226.86 C68.58 228.71 67.46 231.83 67.07 232.82 M72.09 219.24 C71.6 220.05 70.07 222.32 69.16 224.08 C68.24 225.84 67 228.85 66.57 229.8 M72.09 216.71 C71.57 217.47 69.97 219.6 68.99 221.27 C68 222.94 66.66 225.83 66.2 226.74 M72.19 214.18 C71.64 214.89 69.96 216.86 68.92 218.44 C67.88 220.02 66.43 222.77 65.94 223.64 M72.38 211.66 C71.81 212.32 70.07 214.13 68.97 215.61 C67.87 217.09 66.33 219.7 65.8 220.52 M72.67 209.15 C72.08 209.76 70.27 211.41 69.12 212.78 C67.97 214.15 66.33 216.62 65.78 217.39 M73.05 206.67 C72.44 207.22 70.58 208.7 69.38 209.96 C68.19 211.23 66.46 213.54 65.87 214.26 M73.53 204.21 C72.9 204.7 70.99 206.01 69.75 207.16 C68.51 208.32 66.7 210.47 66.09 211.13 M74.1 201.8 C73.45 202.23 71.5 203.36 70.22 204.4 C68.94 205.43 67.06 207.42 66.43 208.02 M74.75 199.43 C74.09 199.8 72.11 200.75 70.8 201.67 C69.49 202.58 67.54 204.39 66.88 204.94 M75.5 197.11 C74.83 197.42 72.82 198.18 71.48 198.98 C70.14 199.78 68.13 201.41 67.46 201.89 M76.33 194.85 C75.65 195.1 73.62 195.68 72.25 196.35 C70.89 197.03 68.83 198.47 68.14 198.89 M77.25 192.67 C76.56 192.85 74.52 193.24 73.13 193.79 C71.75 194.33 69.64 195.59 68.94 195.94 M78.24 190.55 C77.55 190.68 75.5 190.88 74.1 191.29 C72.7 191.71 70.55 192.77 69.84 193.06 M79.31 188.52 C78.62 188.58 76.57 188.59 75.16 188.88 C73.75 189.17 71.58 190.03 70.86 190.26 M80.46 186.58 C79.77 186.58 77.73 186.39 76.31 186.55 C74.9 186.71 72.7 187.37 71.98 187.53 M81.67 184.73 C80.98 184.66 78.96 184.29 77.55 184.32 C76.14 184.35 73.92 184.8 73.19 184.9 M82.95 182.98 C82.27 182.85 80.27 182.29 78.87 182.18 C77.46 182.08 75.23 182.33 74.51 182.36 M84.3 181.34 C83.62 181.14 81.66 180.39 80.26 180.16 C78.86 179.93 76.64 179.97 75.91 179.94 M85.7 179.8 C85.03 179.54 83.11 178.61 81.72 178.25 C80.34 177.89 78.13 177.73 77.41 177.63 M87.15 178.38 C86.5 178.06 84.62 176.95 83.26 176.46 C81.9 175.97 79.7 175.61 78.98 175.44 M88.65 177.09 C88.02 176.7 86.19 175.41 84.85 174.79 C83.52 174.18 81.34 173.61 80.64 173.38 M90.2 175.91 C89.58 175.47 87.81 174 86.51 173.26 C85.2 172.52 83.06 171.75 82.37 171.45 M91.79 174.86 C91.19 174.36 89.48 172.73 88.21 171.86 C86.94 171 84.84 170.03 84.16 169.67 M93.41 173.95 C92.83 173.39 91.2 171.59 89.97 170.61 C88.73 169.62 86.68 168.46 86.02 168.03 M95.06 173.16 C94.51 172.55 92.95 170.6 91.76 169.49 C90.57 168.39 88.57 167.04 87.93 166.55 M96.73 172.52 C96.21 171.85 94.73 169.74 93.59 168.53 C92.45 167.31 90.51 165.77 89.9 165.22 M98.42 172.01 C97.93 171.29 96.54 169.04 95.45 167.71 C94.37 166.39 92.49 164.67 91.9 164.06 M100.13 171.64 C99.67 170.87 98.37 168.48 97.34 167.05 C96.31 165.62 94.51 163.72 93.95 163.06 M101.84 171.41 C101.41 170.6 100.22 168.08 99.25 166.55 C98.28 165.02 96.56 162.95 96.02 162.23 M103.56 171.32 C103.16 170.47 102.07 167.83 101.16 166.2 C100.26 164.57 98.63 162.34 98.12 161.57 M105.27 171.38 C104.91 170.48 103.93 167.73 103.09 166.01 C102.25 164.29 100.71 161.9 100.24 161.08 M106.98 171.58 C106.65 170.64 105.78 167.78 105.01 165.98 C104.24 164.18 102.81 161.63 102.37 160.76 M108.67 171.92 C108.38 170.95 107.63 167.99 106.93 166.11 C106.24 164.22 104.91 161.54 104.5 160.63 M110.35 172.39 C110.09 171.39 109.46 168.35 108.84 166.39 C108.22 164.44 107 161.62 106.63 160.66 M112 173.01 C111.78 171.98 111.27 168.86 110.73 166.84 C110.19 164.81 109.08 161.87 108.75 160.88 M113.62 173.77 C113.45 172.71 113.05 169.52 112.59 167.43 C112.13 165.35 111.15 162.29 110.86 161.26 M115.2 174.65 C115.07 173.58 114.81 170.33 114.43 168.19 C114.05 166.05 113.19 162.89 112.94 161.83 M116.75 175.67 C116.66 174.58 116.52 171.28 116.23 169.09 C115.94 166.91 115.21 163.65 115 162.56 M118.25 176.82 C118.21 175.71 118.2 172.38 117.99 170.15 C117.79 167.92 117.18 164.58 117.02 163.46 M119.7 178.09 C119.7 176.97 119.82 173.61 119.71 171.35 C119.59 169.09 119.12 165.67 119 164.53 M121.1 179.49 C121.15 178.36 121.4 174.98 121.37 172.69 C121.34 170.41 121 166.92 120.93 165.77 M122.44 181 C122.53 179.86 122.91 176.48 122.97 174.17 C123.04 171.87 122.84 168.33 122.81 167.16 M123.72 182.62 C123.85 181.48 124.37 178.1 124.52 175.79 C124.67 173.47 124.61 169.89 124.62 168.71 M124.93 184.35 C125.11 183.21 125.75 179.85 125.99 177.53 C126.23 175.2 126.31 171.59 126.38 170.41 M126.08 186.17 C126.3 185.04 127.07 181.71 127.4 179.39 C127.73 177.07 127.95 173.44 128.06 172.25 M127.15 188.1 C127.41 186.98 128.31 183.68 128.73 181.37 C129.15 179.06 129.51 175.42 129.66 174.24 M128.14 190.11 C128.45 189 129.47 185.76 129.98 183.46 C130.48 181.17 130.98 177.54 131.18 176.35 M129.05 192.21 C129.4 191.11 130.55 187.93 131.14 185.66 C131.74 183.39 132.37 179.77 132.62 178.59 M129.88 194.38 C130.27 193.31 131.54 190.19 132.22 187.95 C132.9 185.71 133.68 182.12 133.97 180.96" stroke="#000" stroke-width="1.0" fill="none"/>
<ellipse cx="100.57" cy="216.34" rx="16.6" ry="24.88" stroke="#000" stroke-width="0.8" fill="none" transform="rotate(2.5 100.57 216.34)"/>
<ellipse cx="101.58" cy="216.39" rx="23.29" ry="34.59" stroke="#000" stroke-width="0.8" fill="none" transform="rotate(2.5 101.58 216.39)"/>
<ellipse cx="102.68" cy="216.44" rx="30.57" ry="45.14" stroke="#000" stroke-width="0.8" fill="none" transform="rotate(2.5 102.68 216.44)"/>
<ellipse cx="103.8" cy="216.49" rx="37.99" ry="55.9" stroke="#000" stroke-width="0.8" fill="none" transform="rotate(2.5 103.8 216.49)"/>
<path d="M78 236 l4 8 l-3 6 l5 6 M86 248 l4 10 M84 230 l3 7 l-2 5" stroke="#000" stroke-width="1.2" fill="none"/>
<path d="M72 232 l3 10 l4 8 M70 226 l2 6" stroke="#000" stroke-width="1.0" fill="none"/>
<ellipse cx="100" cy="216.5" rx="10.8" ry="15.5" stroke="#000" stroke-width="1.2" fill="#fff" transform="rotate(2.5 100 216.5)"/>
<ellipse cx="100" cy="216.5" rx="9.2" ry="13.8" stroke="#333" stroke-width="0.5" fill="none" transform="rotate(2.5 100 216.5)"/>
<path d="M90.4 213.6 q5 -1.6 9.6 -0.4 q5 1.2 10 -0.6 M90 216.2 q5 -1.4 10 0 q5 1.2 10.4 -0.4 M90.2 218.8 q5 -1.2 9.8 0 q5 1 10 -0.4 M92 211.6 h14 M93 221 h13" stroke="#111" stroke-width="1.0" fill="none"/>
<path d="M94 214.6 l2 1.6 l2 -1.6 l2 1.8 l2 -1.8 l2 1.6 l2 -1.4" stroke="#000" stroke-width="0.8" fill="none"/>
<path d="M143.4 206 q3.4 -1.6 6.4 0 l0.6 3.6 l-0.4 22 l-1 3.6 q-3 1.4 -5.6 0 l-0.6 -4 l0 -21 z" stroke="#000" stroke-width="0.9" fill="#fff"/>
<path d="M144 209.6 h6 M144 231 h6 M146 210 v21 M148.6 210 v21" stroke="#000" stroke-width="0.7" fill="none"/>
<path d="M150.6 212 q2.6 4 0.4 9" stroke="#000" stroke-width="0.9" fill="none"/>
</g>
<g id="blade">
<path d="M227.4 209.1 C226.95 206.02 225.43 194.72 224.7 190.6 C223.97 186.48 224.02 185.87 223 184.4 C221.98 182.93 220.22 181.95 218.6 181.8 C216.98 181.65 215.22 181.58 213.3 183.5 C211.38 185.42 209.17 189.77 207.1 193.3 C205.03 196.83 202.62 201.18 200.9 204.7 C199.18 208.22 197.25 211.6 196.8 214.4 C196.35 217.2 197.22 219.63 198.2 221.5 C199.18 223.37 200.63 224.65 202.7 225.6 C204.77 226.55 207.52 227.2 210.6 227.2 C213.68 227.2 217.97 226.25 221.2 225.6 C224.43 224.95 228.53 223.68 230 223.3" stroke="#111" stroke-width="0.9" fill="none"/>
<path d="M234.4 203 C234.27 201.23 233.6 195.65 233.6 192.4 C233.6 189.15 233.67 186.3 234.4 183.5 C235.13 180.7 236.37 177.5 238 175.6 C239.63 173.7 241.7 172.83 244.2 172.1 C246.7 171.37 250.07 170.77 253 171.2 C255.93 171.63 258.87 172.93 261.8 174.7 C264.73 176.47 267.95 179.15 270.6 181.8 C273.25 184.45 275.98 188.1 277.7 190.6 C279.42 193.1 280.6 194.97 280.9 196.8 C281.2 198.63 280.47 200.52 279.5 201.6 C278.53 202.68 277.17 203.3 275.1 203.3 C273.03 203.3 269.9 202.1 267.1 201.6 C264.3 201.1 260.95 200.3 258.3 200.3 C255.65 200.3 253.27 201.02 251.2 201.6 C249.13 202.18 246.78 203.43 245.9 203.8" stroke="#111" stroke-width="0.9" fill="none"/>
<path d="M245.9 217.1 C246.48 218.57 248.28 222.37 249.4 225.9 C250.52 229.43 251.77 234.18 252.6 238.3 C253.43 242.42 254.18 247.07 254.4 250.6 C254.62 254.13 254.58 257.13 253.9 259.5 C253.22 261.87 251.78 263.68 250.3 264.8 C248.82 265.92 246.67 266.35 245 266.2 C243.33 266.05 241.38 265.32 240.3 263.9 C239.22 262.48 238.5 260.2 238.5 257.7 C238.5 255.2 240 250.37 240.3 248.9" stroke="#111" stroke-width="0.9" fill="none"/>
<path d="M240.3 248.9 C240.8 247.13 242.72 242.42 243.3 238.3 C243.88 234.18 243.72 226.55 243.8 224.2" stroke="#111" stroke-width="0.9" fill="none" stroke-dasharray="5 2"/>
<ellipse cx="242.4" cy="214.6" rx="7.6" ry="10.6" stroke="#111" stroke-width="0.8" fill="none" stroke-dasharray="4 1.5"/>
<ellipse cx="235.3" cy="215" rx="8.2" ry="11.2" stroke="#111" stroke-width="0.9" fill="#fff"/>
<ellipse cx="235.3" cy="215" rx="6.4" ry="9.2" stroke="#333" stroke-width="0.6" fill="none"/>
<ellipse cx="235.6" cy="215" rx="1.8" ry="2.4" stroke="#000" stroke-width="0.8" fill="#888"/>
<line x1="228" y1="214.4" x2="243" y2="214.4" stroke="#666" stroke-width="0.7"/>
</g>
<g id="grill-rear">
<path d="M312.8 311.5 C313 303 314.5 297 320.5 295.8 L346 295.6 C351.5 296.5 354 303 355.3 316" stroke="#000" stroke-width="0.9" fill="#fff"/>
<path d="M316 311 C316.3 305 317.5 299.6 322 298 L344.5 297.8 C348.8 298.8 351 304 352.2 314" stroke="#000" stroke-width="0.7" fill="none" stroke-dasharray="5 1.5"/>
<path d="M319 310.5 C319.3 306 320.4 301.8 324.5 300.4 L342.5 300.2 C345.5 301 347.2 305 348 312" stroke="#000" stroke-width="0.8" fill="none"/>
<ellipse cx="334" cy="369.3" rx="49.2" ry="59.6" stroke="#000" stroke-width="1.3" fill="#fff" transform="rotate(-4 334 369.3)"/>
<ellipse cx="334" cy="369.3" rx="47.6" ry="58" stroke="#000" stroke-width="0.6" fill="none" stroke-dasharray="4 1.5" transform="rotate(-4 334 369.3)"/>
<ellipse cx="334.2" cy="369.2" rx="45.6" ry="56.4" stroke="#000" stroke-width="1.1" fill="none" transform="rotate(-4 334.2 369.2)"/>
<rect x="344.25" y="312.07" width="4" height="4.8" fill="#fff" stroke="#000" stroke-width="0.7" transform="rotate(-49 346.25 314.47)"/>
<rect x="365.15" y="327.63" width="4" height="4.8" fill="#fff" stroke="#000" stroke-width="0.7" transform="rotate(-28 367.15 330.03)"/>
<rect x="375.97" y="348.89" width="4" height="4.8" fill="#fff" stroke="#000" stroke-width="0.7" transform="rotate(-10.5 377.97 351.29)"/>
<rect x="378.04" y="378.43" width="4" height="4.8" fill="#fff" stroke="#000" stroke-width="0.7" transform="rotate(10.5 380.04 380.83)"/>
<rect x="369.32" y="402.57" width="4" height="4.8" fill="#fff" stroke="#000" stroke-width="0.7" transform="rotate(29.4 371.32 404.97)"/>
<rect x="351.75" y="419.31" width="4" height="4.8" fill="#fff" stroke="#000" stroke-width="0.7" transform="rotate(49 353.75 421.71)"/>
<rect x="319.95" y="421.53" width="4" height="4.8" fill="#fff" stroke="#000" stroke-width="0.7" transform="rotate(77 321.95 423.93)"/>
<rect x="299.05" y="405.97" width="4" height="4.8" fill="#fff" stroke="#000" stroke-width="0.7" transform="rotate(98 301.05 408.37)"/>
<rect x="285.61" y="370.05" width="4" height="4.8" fill="#fff" stroke="#000" stroke-width="0.7" transform="rotate(126 287.61 372.45)"/>
<rect x="291.73" y="336.73" width="4" height="4.8" fill="#fff" stroke="#000" stroke-width="0.7" transform="rotate(150.5 293.73 339.13)"/>
<rect x="312.45" y="314.29" width="4" height="4.8" fill="#fff" stroke="#000" stroke-width="0.7" transform="rotate(175 314.45 316.69)"/>
<ellipse cx="334" cy="368.4" rx="37.8" ry="53.2" stroke="#000" stroke-width="1.1" fill="#fff" transform="rotate(-4 334 368.4)"/>
<path d="M342.99 367.95 C344.42 367.84 350.17 367.4 351.6 367.29 M343 369.05 C344.44 369.3 350.21 370.31 351.65 370.56 M342.89 370.13 C344.3 370.73 349.92 373.17 351.33 373.78 M342.67 371.16 C344 372.11 349.32 375.91 350.65 376.85 M342.32 372.12 C343.54 373.39 348.41 378.46 349.63 379.72 M341.87 372.99 C342.94 374.54 347.23 380.76 348.3 382.31 M341.33 373.74 C342.22 375.55 345.79 382.75 346.68 384.56 M340.7 374.36 C341.39 376.37 344.13 384.39 344.82 386.4 M340.01 374.83 C340.46 376.99 342.3 385.64 342.76 387.8 M339.26 375.14 C339.48 377.41 340.34 386.46 340.55 388.72 M338.49 375.28 C338.45 377.59 338.29 386.83 338.26 389.14 M337.7 375.25 C337.41 377.55 336.22 386.75 335.92 389.04 M336.92 375.05 C336.37 377.28 334.16 386.21 333.61 388.44 M336.17 374.68 C335.37 376.79 332.17 385.23 331.38 387.34 M335.46 374.15 C334.43 376.09 330.31 383.84 329.28 385.77 M334.82 373.48 C333.58 375.2 328.6 382.06 327.36 383.78 M334.25 372.69 C332.82 374.14 327.11 379.95 325.68 381.4 M333.78 371.78 C332.19 372.93 325.85 377.55 324.27 378.7 M333.41 370.79 C331.7 371.62 324.88 374.92 323.17 375.74 M333.15 369.74 C331.36 370.22 324.2 372.13 322.41 372.61 M333.01 368.65 C331.18 368.77 323.83 369.25 322 369.37 M333 367.55 C331.16 367.31 323.79 366.34 321.95 366.1 M333.11 366.47 C331.3 365.88 324.08 363.48 322.27 362.88 M333.33 365.44 C331.6 364.5 324.68 360.74 322.95 359.81 M333.68 364.48 C332.06 363.22 325.59 358.19 323.97 356.94 M334.13 363.61 C332.66 362.07 326.77 355.89 325.3 354.35 M334.67 362.86 C333.38 361.06 328.21 353.9 326.92 352.1 M335.3 362.24 C334.21 360.24 329.87 352.26 328.78 350.26 M335.99 361.77 C335.14 359.62 331.7 351.01 330.84 348.86 M336.74 361.46 C336.12 359.2 333.66 350.19 333.05 347.94 M337.51 361.32 C337.15 359.02 335.71 349.82 335.34 347.52 M338.3 361.35 C338.19 359.06 337.78 349.9 337.68 347.62 M339.08 361.55 C339.23 359.33 339.84 350.44 339.99 348.22 M339.83 361.92 C340.23 359.82 341.83 351.42 342.22 349.32 M340.54 362.45 C341.17 360.52 343.69 352.81 344.32 350.89 M341.18 363.12 C342.02 361.41 345.4 354.59 346.24 352.88 M341.75 363.91 C342.78 362.47 346.89 356.7 347.92 355.26 M342.22 364.82 C343.41 363.68 348.15 359.1 349.33 357.96 M342.59 365.81 C343.9 364.99 349.12 361.73 350.43 360.92 M342.85 366.86 C344.24 366.39 349.8 364.52 351.19 364.05 M351.63 367.75 C353.17 367.69 359.31 367.43 360.84 367.37 M351.67 369.57 C353.21 369.72 359.37 370.32 360.91 370.48 M351.6 371.37 C353.14 371.74 359.26 373.2 360.79 373.57 M351.42 373.16 C352.93 373.74 358.97 376.04 360.48 376.62 M351.12 374.91 C352.6 375.69 358.5 378.82 359.98 379.6 M350.72 376.61 C352.15 377.59 357.86 381.52 359.29 382.5 M350.21 378.24 C351.58 379.42 357.05 384.12 358.42 385.3 M349.6 379.8 C350.89 381.16 356.08 386.6 357.37 387.96 M348.89 381.27 C350.1 382.81 354.95 388.94 356.16 390.48 M348.09 382.65 C349.21 384.34 353.68 391.13 354.79 392.83 M347.2 383.91 C348.21 385.76 352.27 393.14 353.28 394.99 M346.23 385.06 C347.13 387.04 350.73 394.96 351.63 396.94 M345.2 386.08 C345.97 388.18 349.08 396.58 349.86 398.69 M344.09 386.96 C344.74 389.17 347.33 397.99 347.97 400.2 M342.94 387.7 C343.45 390 345.49 399.17 346 401.46 M341.73 388.3 C342.1 390.66 343.57 400.12 343.94 402.48 M340.49 388.74 C340.71 391.16 341.6 400.82 341.82 403.24 M339.22 389.03 C339.29 391.48 339.58 401.28 339.65 403.73 M337.93 389.16 C337.85 391.62 337.53 401.48 337.45 403.95 M336.63 389.13 C336.4 391.59 335.47 401.44 335.24 403.9 M335.34 388.94 C334.95 391.38 333.41 401.14 333.03 403.58 M334.05 388.6 C333.52 391 331.37 400.59 330.83 402.99 M332.79 388.1 C332.11 390.44 329.36 399.8 328.68 402.14 M331.56 387.45 C330.73 389.71 327.4 398.77 326.57 401.03 M330.36 386.66 C329.39 388.83 325.51 397.51 324.53 399.68 M329.22 385.72 C328.11 387.78 323.69 396.02 322.58 398.08 M328.13 384.66 C326.9 386.59 321.96 394.33 320.72 396.26 M327.11 383.47 C325.76 385.26 320.34 392.43 318.98 394.23 M326.17 382.16 C324.7 383.8 318.83 390.36 317.37 392 M325.3 380.75 C323.73 382.22 317.46 388.11 315.89 389.59 M324.52 379.25 C322.86 380.54 316.22 385.72 314.56 387.01 M323.84 377.66 C322.09 378.77 315.13 383.19 313.39 384.3 M323.25 376 C321.44 376.91 314.2 380.55 312.39 381.47 M322.77 374.28 C320.9 374.99 313.43 377.82 311.56 378.53 M322.39 372.52 C320.48 373.02 312.83 375.02 310.92 375.52 M322.12 370.72 C320.18 371.01 312.41 372.16 310.46 372.45 M321.97 368.91 C320.01 368.98 312.16 369.28 310.2 369.35 M321.93 367.09 C319.96 366.95 312.09 366.39 310.13 366.25 M322 365.29 C320.04 364.93 312.2 363.51 310.25 363.16 M322.18 363.5 C320.24 362.94 312.5 360.67 310.56 360.11 M322.48 361.75 C320.57 360.98 312.97 357.89 311.06 357.12 M322.88 360.05 C321.02 359.08 313.61 355.19 311.75 354.22 M323.39 358.42 C321.59 357.25 314.42 352.59 312.62 351.43 M324 356.86 C322.28 355.51 315.39 350.11 313.67 348.76 M324.71 355.39 C323.07 353.86 316.52 347.77 314.88 346.25 M325.51 354.01 C323.97 352.33 317.79 345.58 316.25 343.9 M326.4 352.75 C324.96 350.91 319.2 343.57 317.76 341.74 M327.37 351.6 C326.04 349.63 320.74 341.75 319.41 339.78 M328.4 350.58 C327.2 348.49 322.39 340.13 321.18 338.04 M329.51 349.7 C328.43 347.5 324.14 338.72 323.07 336.53 M330.66 348.96 C329.73 346.67 325.98 337.54 325.04 335.26 M331.87 348.36 C331.07 346.01 327.89 336.6 327.1 334.24 M333.11 347.92 C332.46 345.51 329.87 335.89 329.22 333.49 M334.38 347.63 C333.88 345.19 331.88 335.44 331.39 333 M335.67 347.5 C335.32 345.05 333.93 335.23 333.59 332.77 M336.97 347.53 C336.77 345.08 335.99 335.28 335.8 332.82 M338.26 347.72 C338.22 345.29 338.05 335.57 338.01 333.14 M339.55 348.06 C339.66 345.67 340.1 336.12 340.21 333.73 M340.81 348.56 C341.07 346.23 342.1 336.91 342.36 334.58 M342.04 349.21 C342.45 346.96 344.06 337.94 344.47 335.69 M343.24 350 C343.78 347.84 345.96 339.21 346.51 337.05 M344.38 350.94 C345.06 348.89 347.78 340.69 348.46 338.64 M345.47 352 C346.27 350.08 349.51 342.39 350.32 340.46 M346.49 353.19 C347.42 351.41 351.13 344.28 352.06 342.5 M347.43 354.5 C348.47 352.87 352.63 346.36 353.67 344.73 M348.3 355.91 C349.44 354.45 354.01 348.6 355.15 347.14 M349.08 357.41 C350.31 356.13 355.25 350.99 356.48 349.71 M349.76 359 C351.08 357.91 356.34 353.52 357.65 352.42 M350.35 360.66 C351.73 359.76 357.27 356.16 358.65 355.26 M350.83 362.38 C352.27 361.68 358.04 358.89 359.48 358.19 M351.21 364.14 C352.7 363.65 358.64 361.7 360.12 361.21 M351.48 365.94 C352.99 365.66 359.06 364.55 360.58 364.27 M360.85 367.61 C362.49 367.56 369.01 367.36 370.65 367.31 M360.91 369.64 C362.55 369.74 369.1 370.14 370.73 370.24 M360.89 371.67 C362.53 371.92 369.06 372.92 370.7 373.17 M360.78 373.69 C362.41 374.09 368.92 375.68 370.55 376.07 M360.6 375.69 C362.21 376.24 368.66 378.41 370.27 378.96 M360.33 377.67 C361.92 378.36 368.29 381.12 369.88 381.81 M359.97 379.62 C361.54 380.45 367.81 383.78 369.38 384.61 M359.54 381.53 C361.08 382.5 367.22 386.39 368.76 387.36 M359.03 383.39 C360.53 384.5 366.53 388.94 368.02 390.05 M358.45 385.21 C359.9 386.45 365.72 391.43 367.18 392.67 M357.79 386.97 C359.19 388.35 364.82 393.84 366.23 395.21 M357.05 388.68 C358.41 390.17 363.82 396.16 365.17 397.66 M356.25 390.31 C357.54 391.93 362.72 398.4 364.01 400.02 M355.38 391.88 C356.61 393.61 361.53 400.54 362.76 402.27 M354.44 393.36 C355.6 395.21 360.25 402.57 361.41 404.42 M353.44 394.77 C354.53 396.71 358.89 404.5 359.97 406.44 M352.39 396.09 C353.4 398.13 357.44 406.3 358.45 408.34 M351.28 397.32 C352.21 399.45 355.92 407.98 356.85 410.11 M350.11 398.45 C350.96 400.67 354.33 409.53 355.18 411.75 M348.9 399.49 C349.66 401.78 352.68 410.95 353.43 413.24 M347.65 400.43 C348.31 402.79 350.97 412.23 351.63 414.59 M346.36 401.26 C346.92 403.68 349.2 413.37 349.77 415.79 M345.03 401.98 C345.5 404.46 347.38 414.36 347.85 416.83 M343.67 402.59 C344.04 405.11 345.52 415.2 345.89 417.72 M342.28 403.1 C342.55 405.65 343.63 415.88 343.9 418.44 M340.87 403.49 C341.04 406.07 341.7 416.41 341.87 419 M339.45 403.76 C339.51 406.37 339.75 416.79 339.81 419.39 M338.01 403.92 C337.96 406.54 337.79 417.01 337.74 419.62 M336.56 403.96 C336.41 406.58 335.81 417.06 335.66 419.68 M335.11 403.89 C334.85 406.5 333.83 416.96 333.57 419.58 M333.66 403.7 C333.3 406.3 331.85 416.71 331.48 419.31 M332.22 403.4 C331.75 405.97 329.87 416.29 329.4 418.87 M330.79 402.98 C330.21 405.52 327.92 415.72 327.34 418.26 M329.37 402.45 C328.69 404.95 325.98 414.99 325.3 417.5 M327.97 401.8 C327.19 404.26 324.07 414.11 323.29 416.57 M326.6 401.05 C325.72 403.46 322.2 413.08 321.31 415.49 M325.26 400.19 C324.28 402.54 320.36 411.91 319.38 414.25 M323.95 399.23 C322.87 401.5 318.57 410.59 317.49 412.87 M322.68 398.17 C321.51 400.36 316.83 409.14 315.66 411.34 M321.45 397.01 C320.19 399.12 315.15 407.55 313.89 409.66 M320.26 395.75 C318.92 397.77 313.53 405.84 312.19 407.86 M319.13 394.41 C317.7 396.33 311.98 404 310.55 405.92 M318.05 392.98 C316.54 394.8 310.51 402.05 309 403.87 M317.02 391.47 C315.44 393.18 309.11 399.99 307.52 401.69 M316.06 389.89 C314.41 391.48 307.79 397.82 306.14 399.41 M315.16 388.24 C313.44 389.7 306.56 395.56 304.84 397.03 M314.33 386.52 C312.55 387.86 305.42 393.21 303.64 394.55 M313.56 384.74 C311.73 385.95 304.38 390.78 302.54 391.99 M312.87 382.91 C310.98 383.98 303.43 388.28 301.54 389.35 M312.25 381.03 C310.32 381.97 302.58 385.71 300.65 386.65 M311.71 379.11 C309.73 379.91 301.84 383.09 299.87 383.88 M311.24 377.16 C309.24 377.81 301.2 380.41 299.2 381.06 M310.86 375.17 C308.82 375.68 300.68 377.7 298.64 378.21 M310.55 373.17 C308.49 373.52 300.26 374.96 298.2 375.32 M310.33 371.14 C308.25 371.35 299.95 372.19 297.88 372.4 M310.19 369.11 C308.1 369.17 299.76 369.42 297.67 369.48 M310.13 367.08 C308.04 366.99 299.68 366.64 297.59 366.55 M310.15 365.05 C308.06 364.81 299.71 363.86 297.62 363.63 M310.26 363.03 C308.18 362.65 299.85 361.1 297.77 360.72 M310.44 361.03 C308.38 360.5 300.11 358.37 298.05 357.83 M310.71 359.06 C308.67 358.38 300.48 355.66 298.44 354.99 M311.07 357.11 C309.04 356.29 300.96 353 298.94 352.18 M311.5 355.2 C309.51 354.24 301.55 350.39 299.56 349.43 M312.01 353.33 C310.05 352.23 302.25 347.84 300.3 346.74 M312.59 351.51 C310.68 350.28 303.05 345.35 301.14 344.12 M313.25 349.75 C311.39 348.39 303.95 342.94 302.09 341.58 M313.99 348.05 C312.18 346.56 304.95 340.62 303.15 339.13 M314.79 346.41 C313.04 344.81 306.05 338.38 304.31 336.77 M315.66 344.85 C313.98 343.13 307.24 336.24 305.56 334.52 M316.6 343.36 C314.98 341.53 308.52 334.21 306.91 332.38 M317.6 341.95 C316.05 340.02 309.89 332.28 308.35 330.35 M318.65 340.63 C317.19 338.6 311.33 330.48 309.87 328.45 M319.76 339.4 C318.38 337.28 312.85 328.8 311.47 326.68 M320.93 338.27 C319.63 336.07 314.44 327.25 313.14 325.04 M322.14 337.23 C320.93 334.95 316.09 325.83 314.89 323.55 M323.39 336.3 C322.27 333.95 317.81 324.55 316.69 322.2 M324.68 335.47 C323.66 333.06 319.58 323.41 318.55 321 M326.01 334.74 C325.09 332.28 321.39 322.42 320.47 319.96 M327.37 334.13 C326.55 331.62 323.25 321.59 322.43 319.08 M328.76 333.63 C328.04 331.08 325.15 320.9 324.42 318.35 M330.17 333.24 C329.55 330.66 327.07 320.37 326.45 317.79 M331.59 332.96 C331.08 330.37 329.02 319.99 328.51 317.4 M333.03 332.8 C332.62 330.2 330.99 319.78 330.58 317.17 M334.48 332.76 C334.18 330.15 332.96 319.72 332.66 317.11 M335.93 332.84 C335.73 330.23 334.95 319.82 334.75 317.21 M337.38 333.02 C337.29 330.43 336.93 320.08 336.84 317.49 M338.82 333.33 C338.84 330.76 338.9 320.49 338.92 317.92 M340.25 333.75 C340.38 331.21 340.86 321.06 340.98 318.53 M341.67 334.28 C341.9 331.78 342.79 321.79 343.02 319.29 M343.07 334.92 C343.4 332.47 344.7 322.67 345.03 320.22 M344.44 335.67 C344.87 333.28 346.58 323.7 347.01 321.3 M345.78 336.53 C346.31 334.2 348.41 324.87 348.94 322.54 M347.09 337.49 C347.71 335.23 350.2 326.19 350.83 323.93 M348.36 338.56 C349.08 336.37 351.94 327.64 352.66 325.46 M349.59 339.72 C350.4 337.62 353.62 329.23 354.43 327.13 M350.78 340.97 C351.67 338.96 355.24 330.94 356.13 328.93 M351.91 342.31 C352.89 340.41 356.79 332.78 357.77 330.87 M352.99 343.74 C354.05 341.94 358.27 334.73 359.32 332.93 M354.02 345.25 C355.15 343.56 359.67 336.79 360.8 335.1 M354.98 346.83 C356.18 345.26 360.98 338.96 362.18 337.38 M355.88 348.49 C357.15 347.03 362.21 341.22 363.48 339.76 M356.71 350.21 C358.04 348.88 363.35 343.57 364.68 342.24 M357.48 351.98 C358.86 350.79 364.4 346 365.78 344.8 M358.17 353.81 C359.6 352.75 365.34 348.5 366.78 347.44 M358.79 355.69 C360.27 354.77 366.19 351.07 367.67 350.15 M359.33 357.61 C360.85 356.83 366.93 353.7 368.45 352.91 M359.8 359.57 C361.35 358.93 367.57 356.37 369.12 355.73 M360.18 361.55 C361.77 361.06 368.1 359.08 369.68 358.59 M360.49 363.56 C362.09 363.21 368.51 361.82 370.12 361.48 M360.71 365.58 C362.33 365.38 368.82 364.59 370.44 364.39" stroke="#000" stroke-width="1.0" fill="none"/>
<ellipse cx="336.8" cy="368.33" rx="14.84" ry="20.86" stroke="#000" stroke-width="0.9" fill="none" transform="rotate(-4 336.8 368.33)"/>
<ellipse cx="336.16" cy="368.35" rx="20.09" ry="28.25" stroke="#000" stroke-width="0.9" fill="none" transform="rotate(-4 336.16 368.35)"/>
<ellipse cx="335.52" cy="368.36" rx="25.34" ry="35.64" stroke="#000" stroke-width="0.9" fill="none" transform="rotate(-4 335.52 368.36)"/>
<ellipse cx="334.84" cy="368.38" rx="30.91" ry="43.5" stroke="#000" stroke-width="0.9" fill="none" transform="rotate(-4 334.84 368.38)"/>
<ellipse cx="334.16" cy="368.4" rx="36.49" ry="51.35" stroke="#000" stroke-width="0.9" fill="none" transform="rotate(-4 334.16 368.4)"/>
<ellipse cx="347.2" cy="368.2" rx="11.6" ry="17.4" stroke="#000" stroke-width="0.9" fill="#fff" transform="rotate(-4 347.2 368.2)"/>
<ellipse cx="346.4" cy="368.2" rx="9.2" ry="14" stroke="#555" stroke-width="0.5" fill="none" stroke-dasharray="2 2" transform="rotate(-4 346.4 368.2)"/>
<ellipse cx="335.6" cy="368.4" rx="7.2" ry="9.6" stroke="#000" stroke-width="1.0" fill="#111" transform="rotate(-4 335.6 368.4)"/>
<ellipse cx="335.6" cy="368.4" rx="4.6" ry="6.2" stroke="#ddd" stroke-width="0.7" fill="none" transform="rotate(-4 335.6 368.4)"/>
<ellipse cx="335.9" cy="368.4" rx="1.5" ry="2" stroke="#000" stroke-width="0.6" fill="#eee"/>
<line x1="290" y1="366" x2="329" y2="366.8" stroke="#000" stroke-width="1.6"/>
<line x1="294" y1="364.2" x2="328" y2="364.6" stroke="#000" stroke-width="0.6" stroke-dasharray="6 2"/>
<ellipse cx="283.4" cy="364.8" rx="4.4" ry="5.2" stroke="#000" stroke-width="1.2" fill="#fff"/>
<ellipse cx="283.2" cy="364.8" rx="2.4" ry="3.2" stroke="#000" stroke-width="0.8" fill="none"/>
<line x1="286.2" y1="364.2" x2="290.5" y2="364.4" stroke="#000" stroke-width="2.2"/>
<ellipse cx="379.6" cy="371.6" rx="3" ry="4.4" stroke="#000" stroke-width="0.8" fill="#fff"/>
</g>
<g id="yoke21">
<path d="M131.4 370.1 C130.7 370.48 128.03 370.75 127.2 372.4 C126.37 374.05 126.47 376.88 126.4 380 C126.33 383.12 125.97 386.52 126.8 391.1 C127.63 395.68 129.27 402.03 131.4 407.5 C133.53 412.97 136.32 418.72 139.6 423.9 C142.88 429.08 147 434.37 151.1 438.6 C155.2 442.83 162.02 447.52 164.2 449.3" stroke="#000" stroke-width="0.9" fill="none"/>
<path d="M128.6 376 C128.63 378.5 128 385.83 128.8 391 C129.6 396.17 131.27 401.67 133.4 407 C135.53 412.33 138.33 417.93 141.6 423 C144.87 428.07 148.93 433.3 153 437.4 C157.07 441.5 163.83 445.9 166 447.6" stroke="#333" stroke-width="0.5" fill="none"/>
<path d="M131.4 370.1 C132.1 370.15 134.83 369.92 135.6 370.4 C136.37 370.88 136.03 372 136 373 C135.97 374 136 375.47 135.4 376.4 C134.8 377.33 133.03 377.83 132.4 378.6 C131.77 379.37 131.22 379.75 131.6 381 C131.98 382.25 133.92 384.97 134.7 386.1 C135.48 387.23 135.48 385.07 136.3 387.8 C137.12 390.53 137.68 397.03 139.6 402.5 C141.52 407.97 144.52 415.13 147.8 420.6 C151.08 426.07 155.48 431.48 159.3 435.3 C163.12 439.12 167.15 441.77 170.7 443.5 C174.25 445.23 178.95 445.33 180.6 445.7" stroke="#000" stroke-width="1.0" fill="none"/>
<path d="M129.6 372.5 C129.57 373.75 129.23 377.75 129.4 380 C129.57 382.25 130.4 385 130.6 386" stroke="#000" stroke-width="0.7" fill="none"/>
<path d="M180.6 445.7 C181.68 445.55 184.1 445.98 187.1 444.8 C190.1 443.62 194.77 441.82 198.6 438.6 C202.43 435.38 206.82 430.15 210.1 425.5 C213.38 420.85 216.25 415.35 218.3 410.7 C220.35 406.05 221.55 401.38 222.4 397.6 C223.25 393.82 223.27 390.45 223.4 388 C223.53 385.55 222.93 384.4 223.2 382.9 C223.47 381.4 224.18 379.88 225 379 C225.82 378.12 227.1 377.73 228.1 377.6 C229.1 377.47 230.32 377.87 231 378.2 C231.68 378.53 232 379.37 232.2 379.6" stroke="#000" stroke-width="1.0" fill="none"/>
<path d="M232.2 379.6 C232.33 380.67 232.92 383.55 233 386 C233.08 388.45 233.23 391 232.7 394.3 C232.17 397.6 231.65 400.87 229.8 405.8 C227.95 410.73 224.88 418.43 221.6 423.9 C218.32 429.37 213.93 434.37 210.1 438.6 C206.27 442.83 200.52 447.52 198.6 449.3" stroke="#000" stroke-width="0.9" fill="none"/>
<path d="M225.6 399 C224.83 401.17 223.2 407.27 221 412 C218.8 416.73 215.73 422.67 212.4 427.4 C209.07 432.13 204.73 437.2 201 440.4 C197.27 443.6 191.83 445.57 190 446.6" stroke="#333" stroke-width="0.5" fill="none"/>
<path d="M226 381 C225.9 382.5 225.33 387.17 225.4 390 C225.47 392.83 225.87 396.17 226.4 398 C226.93 399.83 227.83 401 228.6 401 C229.37 401 230.6 398.5 231 398" stroke="#000" stroke-width="0.8" fill="none"/>
<rect x="227.6" y="384" width="4.2" height="1.8" stroke="#000" stroke-width="0.6" fill="#222"/>
<rect x="227.6" y="387.2" width="4.2" height="1.8" stroke="#000" stroke-width="0.6" fill="#222"/>
<rect x="227.6" y="390.4" width="4.2" height="1.8" stroke="#000" stroke-width="0.6" fill="#222"/>
<rect x="227.6" y="393.6" width="4.2" height="1.8" stroke="#000" stroke-width="0.6" fill="#222"/>
<path d="M163.6 449.4 L199.4 449.4 L198.4 452.2 L196.6 454.4 L166 454.4 L164.2 452.2 Z" stroke="#000" stroke-width="0.9" fill="#fff"/>
<line x1="168" y1="447.6" x2="194" y2="447.6" stroke="#000" stroke-width="1.2"/>
<line x1="171" y1="452" x2="192" y2="452" stroke="#000" stroke-width="0.7"/>
<line x1="173" y1="454.4" x2="173" y2="456.8" stroke="#000" stroke-width="0.7"/>
<line x1="190" y1="454.4" x2="190" y2="456.8" stroke="#000" stroke-width="0.7"/>
<line x1="171" y1="457" x2="192.5" y2="457" stroke="#333" stroke-width="0.7"/>
</g>
<g id="stem">
<line x1="169.4" y1="457.2" x2="169.4" y2="496.5" stroke="#444" stroke-width="0.8"/>
<line x1="193.8" y1="457.2" x2="193.8" y2="496.5" stroke="#444" stroke-width="0.8"/>
<path d="M171.5 465.6 L191.5 465.6 M173 464 L175.5 461.6 L178.5 461.2 L180 459.4 L183.4 459.4 L184.8 461.2 L187.6 461.6 L190 464 Z" stroke="#000" stroke-width="0.9" fill="#fff"/>
<ellipse cx="181.6" cy="460.6" rx="2.2" ry="1.2" stroke="#000" stroke-width="0.8" fill="#444"/>
<line x1="175" y1="463.2" x2="188" y2="463.2" stroke="#000" stroke-width="0.7"/>
<path d="M176 470 L187.6 470 L188.4 473.4 L187 478.6 L176.6 478.6 L175.2 473.4 Z" stroke="#000" stroke-width="0.9" fill="#fff"/>
<line x1="176" y1="472.2" x2="188" y2="472.2" stroke="#000" stroke-width="0.8"/>
<line x1="176" y1="474.6" x2="188" y2="474.6" stroke="#000" stroke-width="0.8"/>
<line x1="177" y1="476.8" x2="187" y2="476.8" stroke="#000" stroke-width="0.8"/>
<line x1="179" y1="470" x2="179" y2="478.6" stroke="#000" stroke-width="0.6"/>
<line x1="184.6" y1="470" x2="184.6" y2="478.6" stroke="#000" stroke-width="0.6"/>
<path d="M179.4 478.6 L184.2 478.6 L183.6 489 L180 489 Z" stroke="#000" stroke-width="0.9" fill="#fff"/>
<line x1="181.8" y1="479" x2="181.8" y2="489" stroke="#000" stroke-width="0.6"/>
<rect x="180.2" y="491" width="2.6" height="5" stroke="#000" stroke-width="0.9" fill="#666"/>
<path d="M172.2 499.6 L172.2 504.2 L174.0 504.2" stroke="#000" stroke-width="0.8" fill="none"/>
<path d="M177.6 499.6 L177.6 504.2 L179.4 504.2" stroke="#000" stroke-width="0.8" fill="none"/>
<path d="M183.6 499.6 L183.6 504.2 L185.4 504.2" stroke="#000" stroke-width="0.8" fill="none"/>
<path d="M191.2 499.6 L191.2 504.2 L193.0 504.2" stroke="#000" stroke-width="0.8" fill="none"/>
</g>
<g id="sp789">
<ellipse cx="207.4" cy="365" rx="0.9" ry="0.9" stroke="#000" stroke-width="0.6" fill="#000"/>
<path d="M220.4 365 l1.6 -0.9 v1.8 z" stroke="#000" stroke-width="0.5" fill="#000"/>
<ellipse cx="231.2" cy="364.8" rx="1.6" ry="1.6" stroke="#000" stroke-width="0.7" fill="#333"/>
<line x1="232.8" y1="364.4" x2="246" y2="364.4" stroke="#000" stroke-width="0.8" stroke-dasharray="5 1.5"/>
<line x1="246" y1="364.4" x2="283" y2="365.2" stroke="#222" stroke-width="0.8" stroke-dasharray="5 2"/>
<path d="M196.4 374 l1.8 -1 v2 z" stroke="#000" stroke-width="0.5" fill="#000"/>
<path d="M207.4 372.4 v3.2 h2.2" stroke="#000" stroke-width="0.9" fill="none"/>
<line x1="219.6" y1="371.6" x2="219.6" y2="375.6" stroke="#000" stroke-width="1.0"/>
<line x1="197" y1="353.4" x2="201.5" y2="358" stroke="#222" stroke-width="0.7"/>
<path d="M201.5 358 l2.2 0.4" stroke="#000" stroke-width="1.0" fill="none"/>
</g>
<g id="yoke17">
<path d="M430.2 357.8 C429.93 358.17 428.93 358.3 428.6 360 C428.27 361.7 428.07 364.72 428.2 368 C428.33 371.28 428.52 375.2 429.4 379.7 C430.28 384.2 431.65 389.95 433.5 395 C435.35 400.05 437.75 405.33 440.5 410 C443.25 414.67 446.63 419.3 450 423 C453.37 426.7 457.7 430.27 460.7 432.2 C463.7 434.13 465.65 434.27 468 434.6 C470.35 434.93 473.03 434.8 474.8 434.2 C476.57 433.6 477.97 431.53 478.6 431" stroke="#000" stroke-width="1.0" fill="none"/>
<path d="M430.2 357.8 C430.7 357.83 432.57 357.37 433.2 358 C433.83 358.63 433.87 359.6 434 361.6 C434.13 363.6 433.92 366.98 434 370 C434.08 373.02 433.73 375.7 434.5 379.7 C435.27 383.7 436.58 389.28 438.6 394 C440.62 398.72 443.87 403.9 446.6 408 C449.33 412.1 451.98 415.57 455 418.6 C458.02 421.63 461.87 424.47 464.7 426.2 C467.53 427.93 469.63 428.43 472 429 C474.37 429.57 477.75 429.5 478.9 429.6" stroke="#000" stroke-width="1.0" fill="none"/>
<path d="M431.4 381 C432.1 383.43 433.63 390.87 435.6 395.6 C437.57 400.33 440.4 405.17 443.2 409.4 C446 413.63 449.17 417.67 452.4 421 C455.63 424.33 459.33 427.63 462.6 429.4 C465.87 431.17 470.43 431.23 472 431.6" stroke="#000" stroke-width="0.6" fill="none" stroke-dasharray="6 2"/>
<path d="M438.6 376 C439 378.67 439.27 386.83 441 392 C442.73 397.17 446 402.43 449 407 C452 411.57 455.67 415.97 459 419.4 C462.33 422.83 467.33 426.23 469 427.6" stroke="#222" stroke-width="0.6" fill="none"/>
<path d="M430.6 359.4 h5.6 c1.6 0.6 2.2 2 2.2 4.4 v6.4 c-0.6 2.4 -2 3.4 -4 3.8 h-3.8 z" stroke="#000" stroke-width="0.9" fill="#fff"/>
<path d="M432 361.4 h3.4 v8.6 h-3.4 z" stroke="#000" stroke-width="0.8" fill="#bbb"/>
<rect x="429.8" y="357.4" width="3.4" height="2.4" stroke="#000" stroke-width="0.7" fill="#000"/>
<line x1="438.4" y1="361" x2="444.6" y2="361" stroke="#000" stroke-width="0.7"/>
<line x1="443.4" y1="360.2" x2="445.4" y2="360.2" stroke="#000" stroke-width="1.2"/>
<line x1="438.4" y1="373.6" x2="441.8" y2="373.6" stroke="#000" stroke-width="0.7"/>
<line x1="440.4" y1="376" x2="443.8" y2="375.2" stroke="#000" stroke-width="1.4"/>
<line x1="450.4" y1="408.6" x2="453.8" y2="407.8" stroke="#000" stroke-width="1.3"/>
<line x1="475.6" y1="430.6" x2="479.4" y2="429.8" stroke="#000" stroke-width="1.6"/>
<path d="M529.3 364.6 C529.82 364.73 531.55 364.9 532.4 365.4 C533.25 365.9 533.93 366.17 534.4 367.6 C534.87 369.03 535.1 371.63 535.2 374 C535.3 376.37 535.4 378.97 535 381.8 C534.6 384.63 533.75 387.98 532.8 391 C531.85 394.02 530.67 396.9 529.3 399.9 C527.93 402.9 526.28 405.97 524.6 409 C522.92 412.03 521.23 415.47 519.2 418.1 C517.17 420.73 514.75 422.78 512.4 424.8 C510.05 426.82 507.5 428.73 505.1 430.2 C502.7 431.67 500.35 432.57 498 433.6 C495.65 434.63 492.17 435.93 491 436.4" stroke="#000" stroke-width="1.0" fill="none"/>
<path d="M529.3 364.6 C528.92 364.73 527.48 364.83 527 365.4 C526.52 365.97 526.47 366.23 526.4 368 C526.33 369.77 526.62 373.37 526.6 376 C526.58 378.63 526.7 380.8 526.3 383.8 C525.9 386.8 525.05 390.63 524.2 394 C523.35 397.37 522.47 400.93 521.2 404 C519.93 407.07 518.27 409.72 516.6 412.4 C514.93 415.08 513.3 417.9 511.2 420.1 C509.1 422.3 506.37 424.02 504 425.6 C501.63 427.18 499.33 428.47 497 429.6 C494.67 430.73 491.17 431.27 490 432.4 C488.83 433.53 490 435.73 490 436.4" stroke="#000" stroke-width="1.0" fill="none"/>
<path d="M531 385 C530.5 387 529.27 393.07 528 397 C526.73 400.93 525.3 405 523.4 408.6 C521.5 412.2 519.17 415.67 516.6 418.6 C514.03 421.53 511.03 424.07 508 426.2 C504.97 428.33 500 430.53 498.4 431.4" stroke="#000" stroke-width="0.6" fill="none" stroke-dasharray="6 2"/>
<path d="M537.4 384 C537 385.83 536.13 391.23 535 395 C533.87 398.77 532.3 402.83 530.6 406.6 C528.9 410.37 527.23 414.2 524.8 417.6 C522.37 421 519.23 424.33 516 427 C512.77 429.67 508.73 431.93 505.4 433.6 C502.07 435.27 497.57 436.43 496 437" stroke="#222" stroke-width="0.6" fill="none"/>
<path d="M526.4 369.6 q-0.4 -4 2.6 -5 q3 0.2 4 2.4 l-2.4 0.6 q-1.6 -0.6 -2.2 2 z" stroke="#000" stroke-width="0.8" fill="#111"/>
<rect x="529.4" y="367.4" width="4.4" height="2.6" stroke="#000" stroke-width="0.7" fill="#fff"/>
<rect x="527.6" y="370.6" width="5.8" height="3.6" stroke="#000" stroke-width="0.7" fill="#fff"/>
<rect x="527.6" y="375.4" width="6.2" height="3.2" stroke="#000" stroke-width="0.7" fill="#fff"/>
<rect x="527.4" y="379.8" width="6.6" height="3.4" stroke="#000" stroke-width="0.7" fill="#fff"/>
<rect x="489.6" y="432.2" width="3" height="4.2" stroke="#000" stroke-width="0.7" fill="#333"/>
<line x1="509.6" y1="372.4" x2="514.6" y2="372.4" stroke="#000" stroke-width="0.8"/>
<ellipse cx="515.6" cy="372.4" rx="1.3" ry="1.1" stroke="#000" stroke-width="0.6" fill="#000"/>
<line x1="512" y1="375.8" x2="517" y2="375.8" stroke="#000" stroke-width="0.8"/>
<ellipse cx="518" cy="375.8" rx="1.3" ry="1.1" stroke="#000" stroke-width="0.6" fill="#000"/>
<line x1="509.6" y1="379.6" x2="514.6" y2="379.6" stroke="#000" stroke-width="0.8"/>
<ellipse cx="515.6" cy="379.6" rx="1.3" ry="1.1" stroke="#000" stroke-width="0.6" fill="#000"/>
<line x1="519" y1="376" x2="525.6" y2="376" stroke="#000" stroke-width="1.1" stroke-dasharray="2.4 1.4"/>
<line x1="535" y1="366.6" x2="540" y2="366.6" stroke="#000" stroke-width="0.8"/>
<line x1="536.4" y1="382.6" x2="541" y2="382.6" stroke="#000" stroke-width="1.0"/>
<line x1="528" y1="414.8" x2="531" y2="414.8" stroke="#000" stroke-width="1.3"/>
<line x1="509.6" y1="432.8" x2="512.6" y2="433.6" stroke="#000" stroke-width="1.3"/>
<ellipse cx="387.3" cy="372.6" rx="1.7" ry="1.7" stroke="#000" stroke-width="0.6" fill="#000"/>
<line x1="397.6" y1="372.6" x2="405.6" y2="372.8" stroke="#000" stroke-width="0.9"/>
<line x1="405.8" y1="371.6" x2="405.8" y2="374" stroke="#000" stroke-width="0.9"/>
<path d="M409.4 363.6 l2.4 1.2 l-2.4 1.2 z" stroke="#000" stroke-width="0.5" fill="#000"/>
<ellipse cx="415.8" cy="366.8" rx="1.8" ry="1.8" stroke="#000" stroke-width="0.7" fill="#222"/>
<line x1="415.8" y1="364" x2="415.8" y2="372" stroke="#333" stroke-width="0.6"/>
<line x1="407.6" y1="371" x2="414.4" y2="370.4" stroke="#555" stroke-width="0.7" stroke-dasharray="2 1"/>
<path d="M418.6 367 l3 -1.4 v2.8 z" stroke="#000" stroke-width="0.5" fill="#000"/>
<line x1="422.4" y1="367" x2="428.4" y2="367" stroke="#000" stroke-width="1.1" stroke-dasharray="2.4 1.2"/>
<line x1="390.6" y1="341" x2="389.2" y2="370" stroke="#666" stroke-width="0.7" stroke-dasharray="1.8 2.8"/>
<line x1="404.6" y1="341" x2="402.6" y2="370.6" stroke="#666" stroke-width="0.7" stroke-dasharray="1.8 2.8"/>
<line x1="413.4" y1="315.6" x2="410.4" y2="362" stroke="#666" stroke-width="0.7" stroke-dasharray="1.8 2.8"/>
<line x1="419.6" y1="324.6" x2="416.4" y2="363.6" stroke="#666" stroke-width="0.7" stroke-dasharray="1.8 2.8"/>
<line x1="426" y1="333.4" x2="420.6" y2="365" stroke="#666" stroke-width="0.7" stroke-dasharray="1.8 2.8"/>
<line x1="432.6" y1="341.4" x2="427.6" y2="358" stroke="#666" stroke-width="0.7" stroke-dasharray="1.8 2.8"/>
<line x1="510.4" y1="433.6" x2="516.6" y2="438" stroke="#333" stroke-width="0.7"/>
</g>
<g id="motor18">
<line x1="544.6" y1="369" x2="551" y2="369" stroke="#000" stroke-width="1.6"/>
<rect x="547.6" y="367.6" width="3.4" height="2.8" stroke="#000" stroke-width="0.7" fill="#444"/>
<ellipse cx="566.4" cy="368.4" rx="5" ry="7.2" stroke="#555" stroke-width="0.6" fill="none" stroke-dasharray="2 1.4"/>
<ellipse cx="571.6" cy="368.4" rx="4.6" ry="6.8" stroke="#666" stroke-width="0.6" fill="none" stroke-dasharray="1.6 1.6"/>
<line x1="557.4" y1="361.4" x2="566.4" y2="361.2" stroke="#000" stroke-width="0.7"/>
<line x1="557.4" y1="375.4" x2="566.4" y2="375.6" stroke="#000" stroke-width="0.7"/>
<ellipse cx="557.6" cy="368.4" rx="4.6" ry="7" stroke="#000" stroke-width="1.0" fill="#fff"/>
<ellipse cx="556.8" cy="368.4" rx="2.6" ry="4.4" stroke="#000" stroke-width="0.9" fill="#ddd"/>
<line x1="552.6" y1="368.4" x2="561" y2="368.4" stroke="#000" stroke-width="1.0"/>
<ellipse cx="561.8" cy="368.4" rx="1.6" ry="6.6" stroke="#000" stroke-width="0.7" fill="none"/>
<path d="M574 362.6 q3 1 3.6 3.4" stroke="#333" stroke-width="0.7" fill="none"/>
<path d="M576.6 366 l2 -1.6 M576.4 369.4 l2.6 0.4 M578.8 368.4 v4" stroke="#000" stroke-width="1.0" fill="none"/>
<path d="M582.1 369.8 H590.7 V364.1 H595.7 V371.3" stroke="#222" stroke-width="0.9" fill="none"/>
<path d="M592 371.3 V365.6 H594.4" stroke="#444" stroke-width="0.6" fill="none"/>
<path d="M601.6 367.4 q0.4 1.8 -1.2 2" stroke="#000" stroke-width="1.1" fill="none"/>
<line x1="577.1" y1="380.1" x2="600.6" y2="380.1" stroke="#000" stroke-width="1.3"/>
<path d="M601.4 379.4 l5.8 0.4 l-1.4 2.8 l-3.2 -0.4 z" stroke="#000" stroke-width="0.7" fill="#333"/>
<ellipse cx="605.4" cy="406.4" rx="0.5" ry="0.5" stroke="#444" stroke-width="0.4" fill="#444"/>
<line x1="604.3" y1="411.1" x2="612.3" y2="414.5" stroke="#444" stroke-width="0.7" stroke-dasharray="3 1.2"/>
</g>
<g id="cover20">
<ellipse cx="632.1" cy="365.8" rx="14.8" ry="18" stroke="#000" stroke-width="0.7" fill="#fff" stroke-dasharray="3 1.2" transform="rotate(-7 632.1 365.8)"/>
<ellipse cx="630.8" cy="365.8" rx="13.4" ry="17.3" stroke="#000" stroke-width="1.5" fill="#fff" transform="rotate(-7 630.8 365.8)"/>
<ellipse cx="631.6" cy="366" rx="11.2" ry="15" stroke="#000" stroke-width="0.7" fill="none" stroke-dasharray="7 2" transform="rotate(-7 631.6 366)"/>
<path d="M618.6 364.2 H628.6 M618.8 368.4 H628.4 M621.4 361 v10" stroke="#000" stroke-width="0.9" fill="none"/>
<path d="M621 371.6 L630 381.4 M623.6 371 l8.6 8.6 M634 380.6 l6 -6.4 M628 381.6 l5 -4.6" stroke="#000" stroke-width="0.8" fill="none"/>
<path d="M626.4 355.4 h12 M632 352 v4 M629 357 l-2.4 4 M627 362.4 v8" stroke="#000" stroke-width="1.4" fill="none"/>
<path d="M634 352.6 q3 -1 5 1.4 M636 355 h3" stroke="#000" stroke-width="0.8" fill="none"/>
<rect x="630.4" y="357.6" width="7.2" height="13.6" stroke="#000" stroke-width="0.9" fill="#000"/>
<rect x="632" y="358.6" width="3.6" height="12" stroke="#000" stroke-width="0.5" fill="#aaa"/>
<rect x="636.8" y="360" width="4.6" height="9.6" stroke="#000" stroke-width="1.0" fill="#fff"/>
<path d="M638 362 h2.4 v2.4 h-2.4 z M637.6 366.6 h3" stroke="#000" stroke-width="0.8" fill="none"/>
<path d="M629.6 372.4 h12 M641.6 359 v12" stroke="#000" stroke-width="1.3" fill="none"/>
<path d="M636 373.6 l6 -1.4 l1 4 l-4 5" stroke="#000" stroke-width="0.9" fill="none"/>
</g>
<g id="sp2345">
<path d="M135.2 159.5 q3.6 -3 9 -1.2 l0 1.6 q-4.5 1.8 -9 -0.4 z" stroke="#000" stroke-width="0.7" fill="#222"/>
<line x1="144.2" y1="158.9" x2="153.6" y2="158.9" stroke="#000" stroke-width="1.2"/>
<line x1="154.6" y1="158.9" x2="157" y2="158.9" stroke="#333" stroke-width="0.7"/>
<ellipse cx="158.6" cy="158.9" rx="0.6" ry="0.6" stroke="#000" stroke-width="0.4" fill="#000"/>
<path d="M145.4 174.5 q3.6 -3 9 -1.2 l0 1.6 q-4.5 1.8 -9 -0.4 z" stroke="#000" stroke-width="0.7" fill="#222"/>
<line x1="154.4" y1="173.9" x2="163.8" y2="173.9" stroke="#000" stroke-width="1.2"/>
<line x1="164.8" y1="173.9" x2="167.2" y2="173.9" stroke="#333" stroke-width="0.7"/>
<ellipse cx="168.8" cy="173.9" rx="0.6" ry="0.6" stroke="#000" stroke-width="0.4" fill="#000"/>
<path d="M150.4 256.6 q3.6 -3 9 -1.2 l0 1.6 q-4.5 1.8 -9 -0.4 z" stroke="#000" stroke-width="0.7" fill="#222"/>
<line x1="159.4" y1="256" x2="167.6" y2="256" stroke="#000" stroke-width="1.2"/>
<line x1="168.6" y1="256" x2="171" y2="256" stroke="#333" stroke-width="0.7"/>
<ellipse cx="172.6" cy="256" rx="0.6" ry="0.6" stroke="#000" stroke-width="0.4" fill="#000"/>
<path d="M136.4 272.4 q2.8 -3 7 -1.2 l0 1.6 q-3.5 1.8 -7 -0.4 z" stroke="#000" stroke-width="0.7" fill="#222"/>
<line x1="143.4" y1="271.8" x2="148.4" y2="271.8" stroke="#000" stroke-width="1.2"/>
<line x1="149.4" y1="271.8" x2="151.8" y2="271.8" stroke="#333" stroke-width="0.7"/>
<ellipse cx="153.4" cy="271.8" rx="0.6" ry="0.6" stroke="#000" stroke-width="0.4" fill="#000"/>
<path d="M158.2 185 l4.6 -0.6 l3.2 2.4 l3 3.2 l1.6 1 l-0.8 2.4 l-2.6 -0.6 l-2 -2.6 l-3.6 -0.6 l-2.6 -2.6 z" stroke="#000" stroke-width="0.9" fill="#fff"/>
<path d="M159.6 186 l3 0.2 l2 2.2 l-2.4 0.6 z" stroke="#000" stroke-width="0.6" fill="#333"/>
<line x1="169.8" y1="187" x2="173.6" y2="187" stroke="#000" stroke-width="1.2"/>
<ellipse cx="166" cy="214.6" rx="6.9" ry="8" stroke="#000" stroke-width="1.0" fill="#222"/>
<ellipse cx="164" cy="214.2" rx="3.4" ry="4.6" stroke="#000" stroke-width="0.9" fill="#fff"/>
<ellipse cx="163.6" cy="214.2" rx="1.6" ry="2.4" stroke="#000" stroke-width="0.6" fill="#ddd"/>
<path d="M168 209 l2.6 1.6 M169 213 l3 0.6 M168.6 217.6 l2.8 0.4" stroke="#ccc" stroke-width="0.8" fill="none"/>
<path d="M175.4 217.6 l1.6 -1 l1.2 1.4 l7.2 -0.6 l0.4 2.4 l-3.4 0.6 l-1 4.2 l-2.6 1.4 l-1 4.4 l-1.8 0.8 l-1 -2.4 z" stroke="#000" stroke-width="0.9" fill="#fff"/>
<path d="M175.6 218 l1.6 0 l0.8 11.6 l-1.6 0.6 z" stroke="#000" stroke-width="0.6" fill="#111"/>
<line x1="178.4" y1="220.6" x2="183" y2="220.2" stroke="#000" stroke-width="0.7"/>
<line x1="182.2" y1="229" x2="185.6" y2="229" stroke="#000" stroke-width="1.2"/>
<path d="M159 231.4 h7.6 v2 h-2 v3.4 h-2.6 l0.4 3 l2.2 0.6 M159 234.6 h6.6 M160.6 231.4 v5.6 M163.2 236.8 v4" stroke="#000" stroke-width="0.9" fill="none"/>
<rect x="159.6" y="232" width="4" height="2.4" stroke="#000" stroke-width="0.5" fill="#444"/>
<line x1="168.2" y1="234" x2="170.4" y2="234" stroke="#333" stroke-width="0.7"/>
<ellipse cx="171.9" cy="234" rx="0.5" ry="0.5" stroke="#000" stroke-width="0.4" fill="#000"/>
<line x1="182" y1="192.4" x2="171.9" y2="207.8" stroke="#222" stroke-width="0.7"/>
<line x1="189.7" y1="201.4" x2="180.2" y2="214.8" stroke="#333" stroke-width="0.7" stroke-dasharray="2 1.6"/>
<line x1="185.9" y1="230.6" x2="196" y2="247.6" stroke="#222" stroke-width="0.7"/>
<line x1="152" y1="214.4" x2="159.2" y2="214.4" stroke="#777" stroke-width="0.8"/>
</g>
<g id="p22">
<path d="M104.9 499.8 L127.6 499.4 L129.6 500.2 L124.6 505.1 L104.6 504.4 Z" stroke="#000" stroke-width="0.8" fill="#fff"/>
<path d="M107 501 h13 M108 502.4 l12 0.2 M109 503.6 h11 M121.6 500.6 l3 3 M111 500.4 l3 3.6 M116 500.4 l3 3.6" stroke="#000" stroke-width="0.9" fill="none"/>
<ellipse cx="106.6" cy="502" rx="0.7" ry="0.7" stroke="#000" stroke-width="0.5" fill="none"/>
<path d="M114.8 512.4 q6 -3 12 -1.6 l6 -0.4 l6.4 0.2 l-4 6.4 l-8 0 q-8 0.4 -11.6 -1 q-1.6 -1.6 -0.8 -3.6 z" stroke="#000" stroke-width="0.8" fill="#fff"/>
<path d="M117.6 514.4 h14 M118 515.8 h13 M121 511.6 q4 1 6 0 M128 511.2 v4 M131 511.4 v4.4" stroke="#000" stroke-width="0.8" fill="none"/>
<path d="M133.4 516.6 l3.4 -5.6 M135.4 516.8 l3.4 -5.8 M137.2 516.6 l2.2 -4" stroke="#333" stroke-width="0.6" fill="none"/>
<path d="M122.6 524 l-2.4 1.2 l2.4 1.2 M124.6 525.2 h1.8" stroke="#555" stroke-width="0.7" fill="none"/>
<path d="M136.9 544.9 L162.3 545.7 L158.2 553.1 L131.1 552 Z" stroke="#000" stroke-width="0.8" fill="#fff"/>
<path d="M141.6 546.6 l3 1.4 l2 -1 l3.4 1.2 l3 -1.2 l2.6 1.4 M143 548.8 h11 M146 550 h7 M156.6 546.6 l-1.6 4" stroke="#000" stroke-width="0.9" fill="none"/>
<path d="M162.3 545.7 l2.6 0.6 l-2 3.6 l2.6 4 M160.6 549.6 l3 4.4" stroke="#000" stroke-width="0.7" fill="none"/>
<line x1="96.3" y1="548.4" x2="133.4" y2="548.4" stroke="#444" stroke-width="0.9"/>
<path d="M142.4 555.6 l2 1.2 l-1 1.2" stroke="#000" stroke-width="0.8" fill="none"/>
<path d="M148.2 556.1 l2 1.2 l-1 1.2" stroke="#000" stroke-width="0.8" fill="none"/>
<path d="M159.7 556.4000000000001 l2 1.2 l-1 1.2" stroke="#000" stroke-width="0.8" fill="none"/>
<line x1="117.2" y1="560.8" x2="142.6" y2="555.6" stroke="#444" stroke-width="0.7" stroke-dasharray="1.6 2"/>
</g>
<g id="housing43">
<path d="M172.1 499.8 V504.4 h1.8" stroke="#000" stroke-width="0.8" fill="none"/>
<path d="M177 499.8 V504.4 h1.8" stroke="#000" stroke-width="0.8" fill="none"/>
<path d="M183.6 499.8 V504.4 h1.8" stroke="#000" stroke-width="0.8" fill="none"/>
<path d="M191 499.8 V504.4 h1.8" stroke="#000" stroke-width="0.8" fill="none"/>
<line x1="192.6" y1="503.2" x2="198.6" y2="498.6" stroke="#555" stroke-width="0.6" stroke-dasharray="1.4 1.6"/>
<path d="M169 510.6 l3.6 -2.4 l1 1 l-3.6 2.4 z" stroke="#000" stroke-width="0.7" fill="#333"/>
<line x1="178.7" y1="512.2" x2="185.2" y2="512" stroke="#333" stroke-width="1.1"/>
<line x1="186.9" y1="509.6" x2="190.2" y2="508.6" stroke="#222" stroke-width="1.3"/>
<ellipse cx="200.1" cy="509.4" rx="0.7" ry="0.7" stroke="#000" stroke-width="0.4" fill="#000"/>
<line x1="160.7" y1="508.9" x2="175.4" y2="514.6" stroke="#555" stroke-width="0.6" stroke-dasharray="1.4 1.6"/>
<line x1="255.7" y1="496.9" x2="190" y2="507.6" stroke="#333" stroke-width="0.7" stroke-dasharray="1.6 2.2"/>
<line x1="225.4" y1="515.9" x2="232.9" y2="515.9" stroke="#888" stroke-width="0.9"/>
<path d="M136.9 521.1 L141 516.4 L147 515.6 L191.8 517 L218 519.5 L221.3 523.6 L220.5 528.5 L218.6 531.6 L196 532.4 L192 529 L172.1 535.9 L145.9 533.4 L138.6 526.4 Z" stroke="#000" stroke-width="0.9" fill="#fff"/>
<line x1="141" y1="516.2" x2="192" y2="516.6" stroke="#000" stroke-width="1.0" stroke-dasharray="7 2"/>
<line x1="192" y1="517.4" x2="218" y2="519.6" stroke="#000" stroke-width="1.0" stroke-dasharray="7 2"/>
<path d="M139.6 521.6 l7.4 6.6 l25 3.2 l19.4 -7 M141 516.6 l6.4 6" stroke="#000" stroke-width="0.7" fill="none"/>
<path d="M149.4 518.6 h36 l-2.6 4.6 l-10 5.4 l-20 -1 l-3 -4.6 z" stroke="#000" stroke-width="0.9" fill="#fff"/>
<path d="M151.6 520 h30 M153.6 521.8 l24 0.4 M156 523.6 l18 0.6 M159 525.4 l12 0.4 M152.6 519 v6 M156.4 519 v7.6 M166 521 l6 3.6 M163 526.6 l8 -3" stroke="#000" stroke-width="1.0" fill="none"/>
<path d="M160 522.6 h9 v2.4 h-9 z" stroke="#000" stroke-width="0.6" fill="#333"/>
<path d="M192.4 520.6 l1.4 8.6 M194 525 h25 M196 528 v3.6 M201 527 v4.6 M206 527 v4.6 M211 527 v4.6 M216 526.6 v4.6" stroke="#000" stroke-width="0.8" fill="none"/>
<path d="M197 528.4 h3 v2.6 h-3 z M202.4 528.4 h3 v2.6 h-3 z M207.6 528.4 h2.6 v2.4 h-2.6 z M212.6 528 h2.6 v2.4 h-2.6 z" stroke="#000" stroke-width="0.5" fill="#333"/>
<path d="M191.6 528.4 l2 4.4 M193 530.4 h2" stroke="#000" stroke-width="0.9" fill="none"/>
<path d="M210.8 540.6 q2 -1.6 5 -1.2 l4.6 1.2 l-2 1.6 l-5.6 0.4 z" stroke="#000" stroke-width="0.8" fill="#222"/>
<path d="M204.2 551.6 l1.2 -1 l0.8 1 l1.2 -1.2 l0.8 1 l1.2 -1.2 l0.8 1 l1 -1.2" stroke="#555" stroke-width="0.6" fill="none"/>
<path d="M211.6 547.6 l3.6 -0.8 l1.8 1.6 l-0.6 2.8 l-3.6 0.6 l-1.6 -1.6 z" stroke="#000" stroke-width="0.8" fill="#333"/>
<ellipse cx="214" cy="549.4" rx="0.8" ry="0.8" stroke="#fff" stroke-width="0.4" fill="#fff"/>
<path d="M207.6 562.6 l2 -3.6 l3 -0.4 l1.2 -2.4 h2.4 l-0.4 3.6 l-2.4 3 l-3.6 0.6 z" stroke="#000" stroke-width="0.8" fill="#222"/>
</g>
<g id="mid">
<line x1="162.7" y1="562.6" x2="194.5" y2="561.1" stroke="#333" stroke-width="0.8" stroke-dasharray="5 3"/>
<line x1="194.5" y1="561.1" x2="206.6" y2="567.1" stroke="#444" stroke-width="0.6"/>
<line x1="158.9" y1="576.9" x2="167.2" y2="591.3" stroke="#444" stroke-width="0.6"/>
<line x1="160.4" y1="576.2" x2="168.6" y2="590.4" stroke="#777" stroke-width="0.5" stroke-dasharray="3 2"/>
<path d="M192.4 565.6 l2 -1.4 l3.4 1.6 l5.6 1.6 l0.4 1.8 l-6 -0.6 l-3 -1 z" stroke="#000" stroke-width="0.8" fill="#fff"/>
<path d="M205.1 568.6 V577.6 M203.6 569.6 V576.6" stroke="#000" stroke-width="0.8" fill="none"/>
<path d="M192.4 577 V580.6 H206.4 L204 577.4 M194.6 577.4 h9" stroke="#000" stroke-width="0.9" fill="none"/>
<path d="M211.2 571 v3.6 h1.4 M214 571 v3.6 h1.4" stroke="#000" stroke-width="0.8" fill="none"/>
<line x1="217.6" y1="572.6" x2="220.4" y2="572.6" stroke="#555" stroke-width="0.7"/>
<line x1="206.6" y1="576.2" x2="230.8" y2="582.2" stroke="#444" stroke-width="0.6" stroke-dasharray="1.4 2"/>
<line x1="172.5" y1="572.6" x2="191.5" y2="584.6" stroke="#333" stroke-width="0.6"/>
<line x1="180.1" y1="587.6" x2="188.4" y2="585.4" stroke="#444" stroke-width="0.6" stroke-dasharray="2 1.6"/>
<path d="M188.6 584.4 l2 1 l-2 1 z" stroke="#000" stroke-width="0.5" fill="#000"/>
<ellipse cx="193.2" cy="586.8" rx="2.6" ry="1.5" stroke="#000" stroke-width="0.9" fill="none"/>
<line x1="196.4" y1="586.2" x2="199.6" y2="586.4" stroke="#000" stroke-width="0.8"/>
<line x1="200.6" y1="586.8" x2="205" y2="586.8" stroke="#000" stroke-width="1.3"/>
<line x1="208.1" y1="587.2" x2="215.7" y2="587.2" stroke="#555" stroke-width="0.7" stroke-dasharray="3 2"/>
<line x1="195.2" y1="590.9" x2="230.8" y2="590.9" stroke="#777" stroke-width="1.2"/>
<line x1="178.6" y1="591.3" x2="184.6" y2="591.3" stroke="#777" stroke-width="0.9"/>
<line x1="114.9" y1="595.9" x2="188.4" y2="595.9" stroke="#777" stroke-width="1.2"/>
<path d="M178.8 597.6 h7.6 l0.4 2.8 h-5.6 z" stroke="#000" stroke-width="0.8" fill="#444"/>
<path d="M191.2 598.2 v2.8 h-1.2 M194.6 598.2 v2.8 h-1.2 M196.4 598.4 v2.6" stroke="#000" stroke-width="0.8" fill="none"/>
<path d="M203 595.4 v3.8 h1.4 M205.8 595.8 v3.6 h1.4" stroke="#000" stroke-width="0.8" fill="none"/>
<line x1="211.1" y1="598.2" x2="214.2" y2="598.2" stroke="#555" stroke-width="0.7"/>
<line x1="196" y1="603.6" x2="249" y2="599.6" stroke="#555" stroke-width="0.8" stroke-dasharray="4.4 4"/>
<line x1="113.6" y1="606.6" x2="119.6" y2="606.6" stroke="#777" stroke-width="0.9"/>
<line x1="139" y1="606.3" x2="149.4" y2="606.3" stroke="#777" stroke-width="0.9"/>
<line x1="169.5" y1="605.2" x2="190" y2="605" stroke="#333" stroke-width="0.9"/>
<line x1="191.5" y1="605.9" x2="262.7" y2="606.2" stroke="#777" stroke-width="1.2"/>
<ellipse cx="181.2" cy="605.4" rx="2.4" ry="1.3" stroke="#000" stroke-width="0.9" fill="#444"/>
<path d="M190 604.6 l2 -1.6 h3 v2.6 h-4 z" stroke="#000" stroke-width="0.7" fill="#000"/>
<line x1="184" y1="605.2" x2="189" y2="605.2" stroke="#000" stroke-width="1.0" stroke-dasharray="2 1"/>
<path d="M184.4 610.6 l0.8 -1.6 l0.8 1.6 z" stroke="#000" stroke-width="0.5" fill="#000"/>
<path d="M192.2 606.6 V612.6 M190.7 612.6 h6.6" stroke="#000" stroke-width="1.0" fill="none"/>
<line x1="199" y1="617" x2="223.2" y2="617" stroke="#777" stroke-width="1.0"/>
<path d="M212.6 611.4 h1.4 v2.4 l-1 0.6" stroke="#000" stroke-width="0.7" fill="none"/>
<line x1="217.4" y1="613" x2="222.4" y2="613" stroke="#555" stroke-width="0.7" stroke-dasharray="2 1.4"/>
<line x1="158.6" y1="612.4" x2="199" y2="616" stroke="#555" stroke-width="0.7" stroke-dasharray="3 3"/>
<path d="M152.8 609.8 h2.6 M154.2 609.8 v4.2" stroke="#000" stroke-width="0.9" fill="none"/>
<line x1="156.4" y1="613" x2="158.4" y2="611" stroke="#444" stroke-width="0.6"/>
<line x1="150.6" y1="620.6" x2="154.6" y2="615.4" stroke="#444" stroke-width="0.6"/>
<path d="M161.2 615.2 h11.4 v1.6 h-11.4 z" stroke="#000" stroke-width="0.7" fill="#222"/>
<path d="M163 617 l0.4 7 M171 617 l1.2 6.6 M163.4 620 h9 M166.6 617 v6" stroke="#000" stroke-width="0.9" fill="none"/>
<path d="M153.2 620.4 l3 -1.6 l3.6 1.2 l3.6 3 l5.6 1 l2.6 2.8 l0.4 5 l1.6 5.4 l2 4.6 l-1.4 2.2 l-5.6 -0.4 l-6.4 -3.4 l-3.2 -5.6 l-1.4 -6.6 l-3.4 -4 z" stroke="#000" stroke-width="0.9" fill="#fff"/>
<path d="M154.4 621.4 l3.6 0.6 l3.4 3 l1.8 6 l3 6.4 l5.6 4 M166.4 626.4 l1 6 l2 6 l3.6 3.6 M168 629 h4 M168.6 633.4 h4 M170 637.4 h4 M171.6 641 h4" stroke="#000" stroke-width="0.8" fill="none"/>
<path d="M154 620.6 h3.6 v2.4 h-3.6 z M170.6 639 h4.6 v3 h-4.6 z M166 640.6 h3 v2.4 h-3 z" stroke="#000" stroke-width="0.6" fill="#222"/>
<path d="M148.3 632.9 Q153 640.6 162.7 645 Q185 648 206.6 648.1" stroke="#444" stroke-width="0.7" fill="none" stroke-dasharray="4 3"/>
<path d="M206.6 618.8 h16.6 v2.6 h-16.6 z" stroke="#000" stroke-width="0.8" fill="#fff"/>
<line x1="207" y1="620" x2="223" y2="620" stroke="#000" stroke-width="1.0"/>
<path d="M210.6 621.4 v5 h8 v-5 M213 621.4 v5 M216 622 h5 v4" stroke="#000" stroke-width="0.8" fill="none"/>
<path d="M196.2 626.4 h6 v2.8 h-6 z" stroke="#000" stroke-width="0.8" fill="#444"/>
<path d="M198.6 629.2 L204.4 646 L216 647 L219.6 644.6 L219.6 627 L222.6 624.6" stroke="#000" stroke-width="0.8" fill="none"/>
<path d="M202 627.6 h17 M203.6 632.6 l14 -4 M205 636 h10 M208 630 l3 12 M212 628 v17 M205.6 643.4 h13" stroke="#000" stroke-width="0.7" fill="none" stroke-dasharray="5 1.5"/>
<path d="M206 644.6 h8 M214 640.6 l4 1.6 l2.6 -1 M217 642 v4.6" stroke="#000" stroke-width="0.9" fill="none"/>
<path d="M221.2 631.6 l2 -0.6" stroke="#000" stroke-width="1.2" fill="none"/>
<line x1="223.6" y1="631" x2="232.3" y2="629.2" stroke="#444" stroke-width="0.6" stroke-dasharray="1.4 1.8"/>
</g>
<g id="p52">
<rect x="176.6" y="655.4" width="9.8" height="9.8" stroke="#000" stroke-width="1.0" fill="#fff"/>
<path d="M179.4 665.2 v4.2 M181.6 665.2 v4.4 M184.6 665.2 v4.2 M179.4 667.6 h5.2" stroke="#000" stroke-width="0.9" fill="none"/>
<path d="M187.4 663.6 l2.6 -0.6 l3.4 -4" stroke="#000" stroke-width="0.8" fill="none"/>
<ellipse cx="193.2" cy="658.8" rx="0.8" ry="1.2" stroke="#000" stroke-width="0.6" fill="none" transform="rotate(30 193.2 658.8)"/>
<line x1="187.6" y1="655.6" x2="187.6" y2="666" stroke="#333" stroke-width="0.6"/>
<line x1="190" y1="668" x2="206.8" y2="668" stroke="#888" stroke-width="1.5"/>
<ellipse cx="207.2" cy="668" rx="0.9" ry="0.9" stroke="#444" stroke-width="0.5" fill="#666"/>
<line x1="208.6" y1="667" x2="216.5" y2="665.3" stroke="#444" stroke-width="0.6" stroke-dasharray="1.4 1.8"/>
<line x1="200.6" y1="671.8" x2="226" y2="671.8" stroke="#000" stroke-width="1.4"/>
<path d="M224.5 671 l6 -0.2 l1 1.2 l-1.6 1 l-5.4 0.2 z" stroke="#000" stroke-width="0.6" fill="#333"/>
<line x1="232.4" y1="671.5" x2="238.6" y2="669.7" stroke="#444" stroke-width="0.6" stroke-dasharray="1.4 1.8"/>
<line x1="173.3" y1="675.4" x2="252.7" y2="675.4" stroke="#444" stroke-width="1.1"/>
<path d="M228.6 679.6 v2.4 h1.4" stroke="#222" stroke-width="0.8" fill="none"/>
<line x1="229.8" y1="683.2" x2="233.3" y2="688.3" stroke="#333" stroke-width="0.6"/>
</g>
<g id="p34">
<line x1="101.8" y1="672.9" x2="134.4" y2="681.2" stroke="#333" stroke-width="0.6" stroke-dasharray="1.6 1.8"/>
<path d="M134.1 680.1 h2.4 l-1.2 2.2 v1.8" stroke="#000" stroke-width="0.7" fill="none"/>
<path d="M142 678.3 h2.4 l-1.2 2.2 v1.8" stroke="#000" stroke-width="0.7" fill="none"/>
<path d="M146.5 680.1 h2.4 l-1.2 2.2 v1.8" stroke="#000" stroke-width="0.7" fill="none"/>
<path d="M154.8 680.1 h2.4 l-1.2 2.2 v1.8" stroke="#000" stroke-width="0.7" fill="none"/>
<path d="M178.2 686.3 h2.4 l-1.2 2.2 v1.8" stroke="#000" stroke-width="0.7" fill="none"/>
<path d="M186.2 685.4 h2.4 l-1.2 2.2 v1.8" stroke="#000" stroke-width="0.7" fill="none"/>
<path d="M190.6 684.5 h2.4 l-1.2 2.2 v1.8" stroke="#000" stroke-width="0.7" fill="none"/>
<path d="M196.8 686.3 h2.4 l-1.2 2.2 v1.8" stroke="#000" stroke-width="0.7" fill="none"/>
<path d="M125.6 689.1 L136 687.4 L150.3 687 L157.4 690.9 L166.2 697.1 L171.5 698 L182 694.4 L194.4 692.7 L210.3 693 L210.3 696.2 L205 705 L194.4 708.6 L175 708.9 L164.4 707.7 L145 705.9 L132.7 704.2 L126.5 696.2 Z" stroke="#000" stroke-width="0.9" fill="#fff"/>
<path d="M128 690 l22 -1.6 l12 8 l-26 2.6 z" stroke="#000" stroke-width="0.8" fill="#fff"/>
<path d="M131 690.4 l6 7.6 M137 689.8 l6 7.4 M143 689.4 l6 7.2 M149 689 l6 7 M129.6 692.6 l24 -2 M132 695.6 l25 -2.2" stroke="#000" stroke-width="0.9" fill="none"/>
<path d="M132.6 691 h4 l1.6 2 h-4 z M139 690.6 h4 l1.6 2 h-4 z M145 690.2 h4 l1.6 2 h-4 z M135 694.4 h4 l1.4 1.8 h-4 z M141.6 694 h4 l1.4 1.8 h-4 z M148 693.6 h4 l1.4 1.8 h-4 z" stroke="#000" stroke-width="0.5" fill="#333"/>
<path d="M128 697 l7 5 l28 2.6 l10 -6 M163 704.6 l1.6 3" stroke="#000" stroke-width="0.7" fill="none"/>
<path d="M136 699.6 l26 -2.4 M140 701.6 h8 M150 702.4 h8" stroke="#000" stroke-width="0.7" fill="none"/>
<path d="M173.6 700.6 q4 -4.6 8 -4.8 l26 -1 l-3 6.6 l-10 3.6 l-18 0.4 q-2.6 -2 -3 -4.8 z" stroke="#000" stroke-width="0.8" fill="#fff"/>
<path d="M180 696.6 h26 M181 698.2 l24 -0.8" stroke="#000" stroke-width="1.3" fill="none"/>
<path d="M186 692.4 v3 M190 692.4 v3 M199 692.8 h8 M179.6 697 v11 M174 701 l5 -0.6 M203.6 699.4 l2 1 l-2 1.4" stroke="#000" stroke-width="0.7" fill="none"/>
<path d="M126.6 702.4 v3.6 h1.2 M129 703.6 v4 M127.6 708.6 h3" stroke="#000" stroke-width="0.8" fill="none"/>
<path d="M149.4 710.3 V714.7 M148.4 714.7 h2" stroke="#000" stroke-width="0.8" fill="none"/>
<path d="M162.3 710.3 V715.6 M161.3 715.6 h2" stroke="#000" stroke-width="0.8" fill="none"/>
<path d="M179.4 712.1 V716.5 M178.4 716.5 h2" stroke="#000" stroke-width="0.8" fill="none"/>
<path d="M195.9 711.2 V715.6 M194.9 715.6 h2" stroke="#000" stroke-width="0.8" fill="none"/>
<path d="M206.8 710.3 V713.9 M205.8 713.9 h2" stroke="#000" stroke-width="0.8" fill="none"/>
<line x1="206.8" y1="713.4" x2="211.2" y2="719.2" stroke="#333" stroke-width="0.6" stroke-dasharray="2 1.2"/>
</g>
<g id="p35">
<line x1="102" y1="728.4" x2="127.4" y2="728.4" stroke="#333" stroke-width="0.9"/>
<path d="M130 722.6 L153.6 723.5 L141.4 748.6 Q140.4 751 138 751.2 L119 751.4 Q116.4 751.4 116.8 749.6 Z" stroke="#000" stroke-width="0.9" fill="#fff"/>
<path d="M135.7 724.6 L123.4 751 M132.6 723.4 L119.6 750.6 M151.4 724.6 L139 750" stroke="#000" stroke-width="0.7" fill="none"/>
<path d="M137.6 721.8 h14.6 l1.4 1.8 l-1.6 1.8 h-14.6 z" stroke="#000" stroke-width="0.7" fill="#fff"/>
<path d="M139.6 722.8 h3.6 v1.6 h-3.6 z M145 722.8 h4.6 v1.6 h-4.6 z" stroke="#000" stroke-width="0.6" fill="#444"/>
<path d="M181.1 729.2 L203.8 726 L217 753.8 Q217.6 756.6 215 757 L197.6 758.6 Q195.2 758.6 194.4 756.4 Z" stroke="#000" stroke-width="0.9" fill="#fff"/>
<path d="M185.6 728.6 L199.6 757.6 M189.4 728 L203 756.6 M183 729.2 L196.8 758 M205 730 L216.6 754" stroke="#000" stroke-width="0.7" fill="none"/>
<path d="M201 755 l15.4 -1.4 l0.6 2.6 l-15.4 1.6 z" stroke="#000" stroke-width="0.7" fill="#fff"/>
<path d="M203 755.6 l4 -0.4 v1.6 l-4 0.4 z M209 755 l5 -0.4 v1.6 l-5 0.4 z" stroke="#000" stroke-width="0.6" fill="#444"/>
</g>
<g id="p36">
<line x1="80.3" y1="769.9" x2="104.5" y2="769.9" stroke="#333" stroke-width="0.9"/>
<path d="M113 767 L117.7 765.7 L155.5 765.1 L161.2 774.6 L160.4 777 L140 777.6 L138.6 775.6 L130.6 775.8 L128.6 778.4 L115.8 778.2 L112.4 776 Z" stroke="#000" stroke-width="0.9" fill="#fff"/>
<line x1="118" y1="765.4" x2="156" y2="764.8" stroke="#000" stroke-width="1.1" stroke-dasharray="9 2"/>
<path d="M116.6 768.4 L113.6 777 M156.4 766.6 l-3.6 8.6 M119 768 h34 M141 775 h18" stroke="#000" stroke-width="0.7" fill="none"/>
<path d="M104 767.6 l6 -1.6 l1.6 1.4 l-3.6 8.6 l-6.6 2.2 l-1.6 -1.4 z" stroke="#000" stroke-width="0.9" fill="#fff"/>
<path d="M104 769 l6.4 -1 M102.6 771.6 l6.6 -1 M101.4 774.2 l6.8 -1 M100.6 776.6 l6 -1" stroke="#000" stroke-width="1.3" fill="none"/>
<path d="M117.39999999999999 782.6 l-1 2 l1 0.6 l-1.2 2.2" stroke="#000" stroke-width="1.0" fill="none"/>
<path d="M124.89999999999999 782.6 l-1 2 l1 0.6 l-1.2 2.2" stroke="#000" stroke-width="1.0" fill="none"/>
<path d="M137.2 782.6 l-1 2 l1 0.6 l-1.2 2.2" stroke="#000" stroke-width="1.0" fill="none"/>
<path d="M172.5 784 L178.2 773.6 L184 771.6 L193.4 770.6 L227.4 770.8 L231 774 L235 781.2 L234 783.4 L173.4 785 Z" stroke="#000" stroke-width="0.9" fill="#fff"/>
<path d="M184 771.8 q6 -1.6 10 0.4 M196 770.8 q8 -1.4 16 0.2 M214 771 q7 -1 13 0.6" stroke="#000" stroke-width="1.2" fill="none"/>
<path d="M174.6 776.4 l10 -1.4 M174 778.6 l10.6 -1.4 M173.6 780.8 l10.8 -1.4 M173.2 783 l10.4 -1.2" stroke="#000" stroke-width="1.2" fill="none"/>
<path d="M186 773 l-3.6 10.6 M226 773 l4 9 M187 783.6 h12" stroke="#000" stroke-width="0.7" fill="none"/>
<ellipse cx="193.6" cy="780.2" rx="3.8" ry="3.8" stroke="#000" stroke-width="0.8" fill="#fff"/>
<path d="M199 778.6 h24.6 v3.4 h-24.6 z" stroke="#000" stroke-width="0.7" fill="#fff"/>
<path d="M200 780.2 h22 M203 778.6 v3.4 M208 778.6 v3.4 M213 778.6 v3.4 M218 778.6 v3.4" stroke="#000" stroke-width="0.9" fill="none"/>
<path d="M199 776.6 h26" stroke="#000" stroke-width="0.6" fill="none" stroke-dasharray="4 1.4"/>
<path d="M202.20000000000002 787.1 l1 2 l-1 0.8 l1.2 2.4" stroke="#222" stroke-width="0.9" fill="none"/>
<path d="M209.8 789.0 l1 2 l-1 0.8 l1.2 2.4" stroke="#222" stroke-width="0.9" fill="none"/>
<path d="M221.1 787.1 l1 2 l-1 0.8 l1.2 2.4" stroke="#222" stroke-width="0.9" fill="none"/>
<line x1="222.8" y1="791.6" x2="227.6" y2="798.6" stroke="#333" stroke-width="0.6"/>
</g>
<g id="p37">
<line x1="73.8" y1="798.9" x2="125.4" y2="798.9" stroke="#555" stroke-width="1.1"/>
<line x1="77.2" y1="811" x2="125.7" y2="806.4" stroke="#555" stroke-width="0.8" stroke-dasharray="4.4 3.4"/>
<path d="M126.4 798 h12.6 v2.2 h-12.6 z" stroke="#000" stroke-width="0.6" fill="#111"/>
<path d="M128.4 801.4 v4.8 M131.4 801.4 v4.8 M134.4 801.4 v4.8 M137.4 801.4 v4.8 M128 803 h10" stroke="#000" stroke-width="0.8" fill="none"/>
<line x1="127.6" y1="806.4" x2="138.4" y2="806.4" stroke="#000" stroke-width="1.3"/>
<path d="M141.6 799 q3 -1 5.4 0.2 q2 1.6 5 1.4" stroke="#000" stroke-width="1.5" fill="none"/>
<path d="M141.4 800.6 q3 1.2 6 0.6" stroke="#000" stroke-width="0.8" fill="none"/>
<line x1="152.6" y1="801.2" x2="196" y2="804" stroke="#222" stroke-width="1.8" stroke-dasharray="6.4 2.2"/>
<line x1="196" y1="804.2" x2="208.4" y2="804.2" stroke="#000" stroke-width="1.4"/>
<path d="M197 805.6 v5.4 M200 805.6 v5.4 M203 805.6 v5.4 M206 805.6 v5.4 M196.6 807.6 h10" stroke="#000" stroke-width="0.8" fill="none"/>
<line x1="196.2" y1="811.4" x2="206.8" y2="811.4" stroke="#000" stroke-width="1.4"/>
<path d="M100.8 827 q6 -2 12 -1.4 l4 -3.6 l8 -1.6 l20 0.4 l5 2.6 q6 -1 9.4 0.6 l-1 1.8 q-4 1.6 -8 0.6 l-6 1.6 l-22 0.6 l-8 -0.4 q-8 1.8 -13.4 0.2 z" stroke="#000" stroke-width="0.9" fill="#fff"/>
<path d="M101.4 827.4 q6 1.4 12.6 -0.6" stroke="#000" stroke-width="1.8" fill="none"/>
<path d="M152 825 q4 1 7 -0.4" stroke="#000" stroke-width="1.8" fill="none"/>
<path d="M117 822.6 l5 4 l5 -4.6 l5 4.8 l5 -4.8 l5 4.6 l4 -3.6 M120 826.6 h24 M114 824.6 l4 3" stroke="#000" stroke-width="1.1" fill="none"/>
<path d="M131 826.8 q4 1.6 8 0.2" stroke="#000" stroke-width="1.6" fill="none"/>
<path d="M106 835.6 v3.8 h1.6 M122.4 834 v4.6 h1.4 M123.6 834 v4" stroke="#000" stroke-width="0.8" fill="none"/>
<path d="M137 828.8 V837 h-1.2 M152.4 829 v4.4 M153.6 829 v4.4" stroke="#000" stroke-width="0.8" fill="none"/>
<path d="M173.6 834 q5 -1.6 9 -1.4 l4 -3.4 l5 -1.4 l5 2 l3 -2.4 l20 -0.6 l5 1.6 l4 1 q3 0.4 4.6 1.2 l-1.4 1.6 q-4 0.8 -8 0.4 l-30 2 l-12 0.6 q-5 0.8 -8 -0.2 z" stroke="#000" stroke-width="0.9" fill="#fff"/>
<path d="M173.8 834.4 q5 0.8 9.6 -0.6" stroke="#000" stroke-width="1.8" fill="none"/>
<path d="M186 832.6 q3 -3.6 6 -3.6 q3 0.6 5 3.2 M199.6 830.6 l22 -0.8 M199 833 l24 -1.4 M223.6 828.4 l-0.6 3.6 M227 831 q3 1 6 0" stroke="#000" stroke-width="1.0" fill="none"/>
<path d="M181.2 835.6 V845.4 h-1.4 M196.2 839.8 v4.8 h-1.2 M209.8 839 v4.6 M211 839 v4.6 M225 834.6 v4.6 M226.2 834.8 v4.6" stroke="#000" stroke-width="0.8" fill="none"/>
<line x1="226.5" y1="839.8" x2="231.2" y2="844.9" stroke="#333" stroke-width="0.6"/>
</g>
</svg>
</body></html>
